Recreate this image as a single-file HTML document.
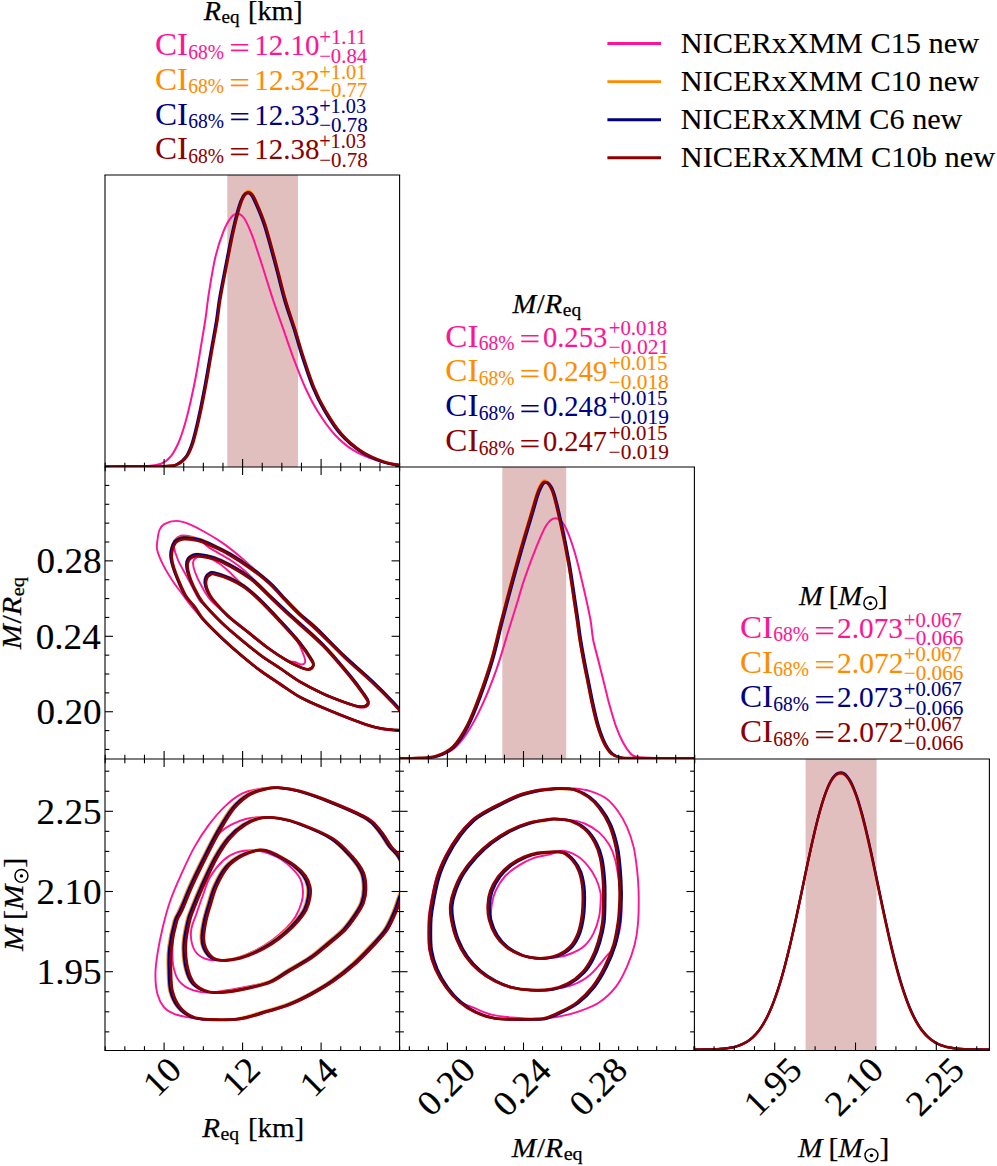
<!DOCTYPE html>
<html><head><meta charset="utf-8"><title>corner plot</title>
<style>html,body{margin:0;padding:0;background:#fff;width:997px;height:1166px;overflow:hidden}
text{font-family:"Liberation Serif",serif}</style></head>
<body>
<svg width="997" height="1166" viewBox="0 0 997 1166" style="display:block;font-family:'Liberation Serif',serif">
<defs>
<clipPath id="cp00"><rect x="105" y="175" width="294.6" height="292"/></clipPath>
<clipPath id="cp10"><rect x="105" y="467" width="294.6" height="292"/></clipPath>
<clipPath id="cp11"><rect x="399.6" y="467" width="294.8" height="292"/></clipPath>
<clipPath id="cp20"><rect x="105" y="759" width="294.6" height="291.5"/></clipPath>
<clipPath id="cp21"><rect x="399.6" y="759" width="294.8" height="291.5"/></clipPath>
<clipPath id="cp22"><rect x="694.4" y="759" width="295" height="291.5"/></clipPath>
</defs>
<rect x="0" y="0" width="997" height="1166" fill="#fff"/>
<rect x="227.3" y="175" width="70.7" height="292" fill="#e2bfbf"/>
<rect x="502.3" y="467" width="63.9" height="292" fill="#e2bfbf"/>
<rect x="805.6" y="759" width="71" height="291.5" fill="#e2bfbf"/>
<path d="M105,466.6C111.68,466.53 135.73,466.68 145.1,466.2C154.47,465.72 156.92,465.33 161.2,463.7C165.48,462.07 167.87,460.02 170.8,456.4C173.73,452.78 176.38,447.62 178.8,442C181.22,436.38 183.28,429.65 185.3,422.7C187.32,415.75 189.03,408.58 190.9,400.3C192.77,392.02 194.77,382.37 196.5,373C198.23,363.63 199.83,352.93 201.3,344.1C202.77,335.27 204.02,328.62 205.3,320C206.58,311.38 207.32,302.9 209,292.4C210.68,281.9 212.98,267.17 215.4,257C217.82,246.83 220.82,238.08 223.5,231.4C226.18,224.72 229.1,219.85 231.5,216.9C233.9,213.95 235.77,213.43 237.9,213.7C240.03,213.97 241.88,214.75 244.3,218.5C246.72,222.25 249.45,228.45 252.4,236.2C255.35,243.95 258.55,254.37 262,265C265.45,275.63 269.55,289.3 273.1,300C276.65,310.7 279.9,319.48 283.3,329.2C286.7,338.92 289.85,348.58 293.5,358.3C297.15,368.02 301.07,378.5 305.2,387.5C309.33,396.5 313.43,404.52 318.3,412.3C323.17,420.08 328.57,427.88 334.4,434.2C340.23,440.52 346.25,445.83 353.3,450.2C360.35,454.57 368.98,457.97 376.7,460.4C384.42,462.83 395.78,464.07 399.6,464.8" fill="none" stroke="#ff1493" stroke-width="2" stroke-linejoin="round" stroke-linecap="round" clip-path="url(#cp00)"/>
<path d="M104.7,466.6C112.2,466.57 139.53,466.48 149.7,466.4C159.87,466.31 161.17,466.42 165.7,466.1C170.23,465.78 173.42,466.11 176.9,464.49C180.38,462.86 183.92,460.11 186.6,456.34C189.28,452.57 190.87,448.58 193,441.85C195.13,435.13 197.27,425.69 199.4,416C201.53,406.31 203.8,394.47 205.8,383.71C207.8,372.94 209.52,362.18 211.4,351.41C213.28,340.65 215.67,328.06 217.1,319.12C218.53,310.18 218.45,307.01 220,297.79C221.55,288.57 224.27,274.82 226.4,263.79C228.53,252.76 230.67,241.27 232.8,231.6C234.93,221.92 237.38,211.95 239.2,205.74C241.02,199.54 242.23,196.86 243.7,194.38C245.17,191.89 246.67,191.11 248,190.86C249.33,190.6 250.48,191.46 251.7,192.87C252.92,194.28 253.1,194.21 255.3,199.31C257.5,204.4 261.43,212.7 264.9,223.45C268.37,234.2 272.72,251.2 276.1,263.79C279.48,276.38 282.1,288.24 285.2,299C288.3,309.76 291.65,318.6 294.7,328.38C297.75,338.15 300.33,347.88 303.5,357.65C306.67,367.43 310.07,378.22 313.7,387.03C317.33,395.83 320.68,402.64 325.3,410.47C329.92,418.3 335.32,427.15 341.4,434.01C347.48,440.86 354.75,446.97 361.8,451.61C368.85,456.25 377.45,459.61 383.7,461.87C389.95,464.14 396.7,464.64 399.3,465.19" fill="none" stroke="#ff8c00" stroke-width="2.2" stroke-linejoin="round" stroke-linecap="round" clip-path="url(#cp00)"/>
<path d="M103.8,466.9C111.3,466.87 138.63,466.78 148.8,466.7C158.97,466.62 160.27,466.72 164.8,466.4C169.33,466.08 172.52,466.42 176,464.8C179.48,463.18 183.02,460.45 185.7,456.7C188.38,452.95 189.97,448.98 192.1,442.3C194.23,435.62 196.37,426.23 198.5,416.6C200.63,406.97 202.9,395.2 204.9,384.5C206.9,373.8 208.62,363.1 210.5,352.4C212.38,341.7 214.77,329.18 216.2,320.3C217.63,311.42 217.55,308.27 219.1,299.1C220.65,289.93 223.37,276.27 225.5,265.3C227.63,254.33 229.77,242.92 231.9,233.3C234.03,223.68 236.48,213.77 238.3,207.6C240.12,201.43 241.33,198.77 242.8,196.3C244.27,193.83 245.77,193.05 247.1,192.8C248.43,192.55 249.58,193.4 250.8,194.8C252.02,196.2 252.2,196.13 254.4,201.2C256.6,206.27 260.53,214.52 264,225.2C267.47,235.88 271.82,252.78 275.2,265.3C278.58,277.82 281.2,289.6 284.3,300.3C287.4,311 290.75,319.78 293.8,329.5C296.85,339.22 299.43,348.88 302.6,358.6C305.77,368.32 309.17,379.05 312.8,387.8C316.43,396.55 319.78,403.32 324.4,411.1C329.02,418.88 334.42,427.68 340.5,434.5C346.58,441.32 353.85,447.38 360.9,452C367.95,456.62 376.55,459.95 382.8,462.2C389.05,464.45 395.8,464.95 398.4,465.5" fill="none" stroke="#000080" stroke-width="2.4" stroke-linejoin="round" stroke-linecap="round" clip-path="url(#cp00)"/>
<path d="M105,466.6C112.5,466.57 139.83,466.48 150,466.4C160.17,466.32 161.47,466.42 166,466.1C170.53,465.78 173.72,466.12 177.2,464.5C180.68,462.88 184.22,460.15 186.9,456.4C189.58,452.65 191.17,448.68 193.3,442C195.43,435.32 197.57,425.93 199.7,416.3C201.83,406.67 204.1,394.9 206.1,384.2C208.1,373.5 209.82,362.8 211.7,352.1C213.58,341.4 215.97,328.88 217.4,320C218.83,311.12 218.75,307.97 220.3,298.8C221.85,289.63 224.57,275.97 226.7,265C228.83,254.03 230.97,242.62 233.1,233C235.23,223.38 237.68,213.47 239.5,207.3C241.32,201.13 242.53,198.47 244,196C245.47,193.53 246.97,192.75 248.3,192.5C249.63,192.25 250.78,193.1 252,194.5C253.22,195.9 253.4,195.83 255.6,200.9C257.8,205.97 261.73,214.22 265.2,224.9C268.67,235.58 273.02,252.48 276.4,265C279.78,277.52 282.4,289.3 285.5,300C288.6,310.7 291.95,319.48 295,329.2C298.05,338.92 300.63,348.58 303.8,358.3C306.97,368.02 310.37,378.75 314,387.5C317.63,396.25 320.98,403.02 325.6,410.8C330.22,418.58 335.62,427.38 341.7,434.2C347.78,441.02 355.05,447.08 362.1,451.7C369.15,456.32 377.75,459.65 384,461.9C390.25,464.15 397,464.65 399.6,465.2" fill="none" stroke="#8b0000" stroke-width="2.8" stroke-linejoin="round" stroke-linecap="round" clip-path="url(#cp00)"/>
<path d="M399.6,758.3C403,758.27 413.92,758.4 420,758.1C426.08,757.8 430.6,757.97 436.1,756.5C441.6,755.03 447.78,753.32 453,749.3C458.22,745.28 462.6,739.63 467.4,732.4C472.2,725.17 476.98,716.33 481.8,705.9C486.62,695.47 491.88,682.23 496.3,669.8C500.72,657.37 504.68,642.93 508.3,631.3C511.92,619.67 515.33,608.67 518,600C520.67,591.33 521.25,588.1 524.3,579.3C527.35,570.5 532.63,556.22 536.3,547.2C539.97,538.18 543.13,530.03 546.3,525.2C549.47,520.37 552.28,518.2 555.3,518.2C558.32,518.2 561.22,519.68 564.4,525.2C567.58,530.72 571.07,540.27 574.4,551.3C577.73,562.33 581.72,579.95 584.4,591.4C587.08,602.85 589.03,611.9 590.5,620C591.97,628.1 591.85,633.1 593.2,640C594.55,646.9 596.8,654.25 598.6,661.4C600.4,668.55 602.22,675.75 604,682.9C605.78,690.05 607.33,697.15 609.3,704.3C611.27,711.45 613.47,719.35 615.8,725.8C618.13,732.25 620.8,738.35 623.3,743C625.8,747.65 628.48,751.38 630.8,753.7C633.12,756.02 632.33,756.15 637.2,756.9C642.07,757.65 650.47,757.97 660,758.2C669.53,758.43 688.67,758.28 694.4,758.3" fill="none" stroke="#ff1493" stroke-width="2" stroke-linejoin="round" stroke-linecap="round" clip-path="url(#cp11)"/>
<path d="M399.3,758.3C401.77,758.28 408.02,758.59 414.1,758.2C420.18,757.81 429.37,757.9 435.8,755.99C442.23,754.07 447.48,751.9 452.7,746.73C457.92,741.57 462.7,733.47 467.1,725C471.5,716.53 475.08,706.83 479.1,695.93C483.12,685.03 487.58,672.07 491.2,659.61C494.82,647.15 497.68,633.39 500.8,621.18C503.92,608.98 506.72,598.23 509.9,586.37C513.08,574.52 516.55,561.83 519.9,550.06C523.25,538.29 526.98,525.85 530,515.75C533.02,505.66 535.6,495.4 538,489.5C540.4,483.59 542.07,480.34 544.4,480.34C546.73,480.34 549.38,482.59 552,489.5C554.62,496.4 557.42,509.68 560.1,521.79C562.78,533.89 565.83,549.25 568.1,562.13C570.37,575.01 572.27,589.54 573.7,599.05C575.13,608.56 575.73,612.46 576.7,619.17C577.67,625.88 578.4,632.35 579.5,639.29C580.6,646.23 581.95,653.63 583.3,660.82C584.65,668.01 586.17,675.25 587.6,682.45C589.03,689.64 590.3,696.78 591.9,703.98C593.5,711.17 595.23,719.12 597.2,725.6C599.17,732.09 601.37,738.23 603.7,742.91C606.03,747.59 608.53,751.26 611.2,753.67C613.87,756.09 615.78,756.64 619.7,757.39C623.62,758.15 622.3,758.05 634.7,758.2C647.1,758.35 684.2,758.28 694.1,758.3" fill="none" stroke="#ff8c00" stroke-width="2.2" stroke-linejoin="round" stroke-linecap="round" clip-path="url(#cp11)"/>
<path d="M400.9,758.6C403.37,758.58 409.62,758.88 415.7,758.5C421.78,758.12 430.97,758.2 437.4,756.3C443.83,754.4 449.08,752.23 454.3,747.1C459.52,741.97 464.3,733.92 468.7,725.5C473.1,717.08 476.68,707.43 480.7,696.6C484.72,685.77 489.18,672.88 492.8,660.5C496.42,648.12 499.28,634.43 502.4,622.3C505.52,610.17 508.32,599.48 511.5,587.7C514.68,575.92 518.15,563.3 521.5,551.6C524.85,539.9 528.58,527.53 531.6,517.5C534.62,507.47 537.2,497.27 539.6,491.4C542,485.53 543.67,482.3 546,482.3C548.33,482.3 550.98,484.53 553.6,491.4C556.22,498.27 559.02,511.47 561.7,523.5C564.38,535.53 567.43,550.8 569.7,563.6C571.97,576.4 573.87,590.85 575.3,600.3C576.73,609.75 577.33,613.63 578.3,620.3C579.27,626.97 580,633.4 581.1,640.3C582.2,647.2 583.55,654.55 584.9,661.7C586.25,668.85 587.77,676.05 589.2,683.2C590.63,690.35 591.9,697.45 593.5,704.6C595.1,711.75 596.83,719.65 598.8,726.1C600.77,732.55 602.97,738.65 605.3,743.3C607.63,747.95 610.13,751.6 612.8,754C615.47,756.4 617.38,756.95 621.3,757.7C625.22,758.45 623.9,758.35 636.3,758.5C648.7,758.65 685.8,758.58 695.7,758.6" fill="none" stroke="#000080" stroke-width="2.4" stroke-linejoin="round" stroke-linecap="round" clip-path="url(#cp11)"/>
<path d="M399.6,758.3C402.07,758.28 408.32,758.58 414.4,758.2C420.48,757.82 429.67,757.9 436.1,756C442.53,754.1 447.78,751.93 453,746.8C458.22,741.67 463,733.62 467.4,725.2C471.8,716.78 475.38,707.13 479.4,696.3C483.42,685.47 487.88,672.58 491.5,660.2C495.12,647.82 497.98,634.13 501.1,622C504.22,609.87 507.02,599.18 510.2,587.4C513.38,575.62 516.85,563 520.2,551.3C523.55,539.6 527.28,527.23 530.3,517.2C533.32,507.17 535.9,496.97 538.3,491.1C540.7,485.23 542.37,482 544.7,482C547.03,482 549.68,484.23 552.3,491.1C554.92,497.97 557.72,511.17 560.4,523.2C563.08,535.23 566.13,550.5 568.4,563.3C570.67,576.1 572.57,590.55 574,600C575.43,609.45 576.03,613.33 577,620C577.97,626.67 578.7,633.1 579.8,640C580.9,646.9 582.25,654.25 583.6,661.4C584.95,668.55 586.47,675.75 587.9,682.9C589.33,690.05 590.6,697.15 592.2,704.3C593.8,711.45 595.53,719.35 597.5,725.8C599.47,732.25 601.67,738.35 604,743C606.33,747.65 608.83,751.3 611.5,753.7C614.17,756.1 616.08,756.65 620,757.4C623.92,758.15 622.6,758.05 635,758.2C647.4,758.35 684.5,758.28 694.4,758.3" fill="none" stroke="#8b0000" stroke-width="2.8" stroke-linejoin="round" stroke-linecap="round" clip-path="url(#cp11)"/>
<path d="M694.4,1049.57C694.9,1049.57 696.4,1049.56 697.4,1049.56C698.4,1049.55 699.4,1049.54 700.4,1049.53C701.4,1049.53 702.4,1049.52 703.4,1049.5C704.4,1049.49 705.4,1049.48 706.4,1049.46C707.4,1049.45 708.4,1049.43 709.4,1049.41C710.4,1049.38 711.4,1049.36 712.4,1049.33C713.4,1049.29 714.4,1049.26 715.4,1049.22C716.4,1049.17 717.4,1049.13 718.4,1049.07C719.4,1049.01 720.4,1048.95 721.4,1048.87C722.4,1048.79 723.4,1048.71 724.4,1048.6C725.4,1048.5 726.4,1048.39 727.4,1048.26C728.4,1048.12 729.4,1047.97 730.4,1047.8C731.4,1047.62 732.4,1047.43 733.4,1047.21C734.4,1046.98 735.4,1046.74 736.4,1046.45C737.4,1046.17 738.4,1045.85 739.4,1045.49C740.4,1045.13 741.4,1044.74 742.4,1044.29C743.4,1043.83 744.4,1043.34 745.4,1042.78C746.4,1042.22 747.4,1041.61 748.4,1040.93C749.4,1040.24 750.4,1039.5 751.4,1038.66C752.4,1037.83 753.4,1036.92 754.4,1035.92C755.4,1034.91 756.4,1033.83 757.4,1032.63C758.4,1031.43 759.4,1030.14 760.4,1028.73C761.4,1027.31 762.4,1025.79 763.4,1024.14C764.4,1022.48 765.4,1020.72 766.4,1018.8C767.4,1016.89 768.4,1014.84 769.4,1012.65C770.4,1010.46 771.4,1008.13 772.4,1005.64C773.4,1003.15 774.4,1000.51 775.4,997.72C776.4,994.92 777.4,991.98 778.4,988.87C779.4,985.77 780.4,982.51 781.4,979.1C782.4,975.68 783.4,972.11 784.4,968.4C785.4,964.7 786.4,960.83 787.4,956.84C788.4,952.85 789.4,948.72 790.4,944.48C791.4,940.24 792.4,935.86 793.4,931.41C794.4,926.96 795.4,922.38 796.4,917.77C797.4,913.15 798.4,908.43 799.4,903.7C800.4,898.97 801.4,894.16 802.4,889.38C803.4,884.61 804.4,879.78 805.4,875.03C806.4,870.27 807.4,865.5 808.4,860.84C809.4,856.17 810.4,851.53 811.4,847.04C812.4,842.55 813.4,838.12 814.4,833.87C815.4,829.62 816.4,825.48 817.4,821.55C818.4,817.63 819.4,813.84 820.4,810.3C821.4,806.76 822.4,803.41 823.4,800.32C824.4,797.23 825.4,794.35 826.4,791.76C827.4,789.17 828.4,786.83 829.4,784.78C830.4,782.73 831.4,780.95 832.4,779.47C833.4,777.98 834.4,776.78 835.4,775.87C836.4,774.95 837.4,774.34 838.4,773.97C839.4,773.6 840.4,773.51 841.4,773.64C842.4,773.78 843.4,774.12 844.4,774.78C845.4,775.43 846.4,776.35 847.4,777.57C848.4,778.79 849.4,780.3 850.4,782.09C851.4,783.88 852.4,785.96 853.4,788.3C854.4,790.64 855.4,793.27 856.4,796.14C857.4,799 858.4,802.14 859.4,805.47C860.4,808.81 861.4,812.4 862.4,816.16C863.4,819.91 864.4,823.9 865.4,828C866.4,832.11 867.4,836.41 868.4,840.8C869.4,845.19 870.4,849.74 871.4,854.33C872.4,858.93 873.4,863.64 874.4,868.37C875.4,873.09 876.4,877.9 877.4,882.68C878.4,887.45 879.4,892.28 880.4,897.04C881.4,901.8 882.4,906.56 883.4,911.24C884.4,915.92 885.4,920.57 886.4,925.11C887.4,929.64 888.4,934.12 889.4,938.46C890.4,942.8 891.4,947.06 892.4,951.17C893.4,955.27 894.4,959.27 895.4,963.11C896.4,966.96 897.4,970.67 898.4,974.22C899.4,977.77 900.4,981.18 901.4,984.43C902.4,987.67 903.4,990.77 904.4,993.71C905.4,996.65 906.4,999.43 907.4,1002.06C908.4,1004.69 909.4,1007.16 910.4,1009.49C911.4,1011.82 912.4,1013.99 913.4,1016.03C914.4,1018.08 915.4,1019.97 916.4,1021.74C917.4,1023.52 918.4,1025.15 919.4,1026.67C920.4,1028.2 921.4,1029.59 922.4,1030.89C923.4,1032.18 924.4,1033.36 925.4,1034.45C926.4,1035.55 927.4,1036.53 928.4,1037.44C929.4,1038.36 930.4,1039.17 931.4,1039.92C932.4,1040.68 933.4,1041.35 934.4,1041.96C935.4,1042.58 936.4,1043.12 937.4,1043.62C938.4,1044.12 939.4,1044.56 940.4,1044.96C941.4,1045.36 942.4,1045.71 943.4,1046.03C944.4,1046.35 945.4,1046.63 946.4,1046.88C947.4,1047.13 948.4,1047.35 949.4,1047.54C950.4,1047.74 951.4,1047.91 952.4,1048.06C953.4,1048.21 954.4,1048.34 955.4,1048.45C956.4,1048.57 957.4,1048.67 958.4,1048.75C959.4,1048.84 960.4,1048.92 961.4,1048.98C962.4,1049.05 963.4,1049.1 964.4,1049.15C965.4,1049.2 966.4,1049.24 967.4,1049.28C968.4,1049.32 969.4,1049.34 970.4,1049.37C971.4,1049.4 972.4,1049.42 973.4,1049.44C974.4,1049.46 975.4,1049.47 976.4,1049.49C977.4,1049.5 978.4,1049.51 979.4,1049.52C980.4,1049.53 981.4,1049.54 982.4,1049.55C983.4,1049.55 984.4,1049.56 985.4,1049.56C986.4,1049.57 987.9,1049.57 988.4,1049.58" fill="none" stroke="#ff1493" stroke-width="2" stroke-linejoin="round" stroke-linecap="round" clip-path="url(#cp22)"/>
<path d="M694.4,1049.57C694.9,1049.57 696.4,1049.56 697.4,1049.55C698.4,1049.55 699.4,1049.54 700.4,1049.53C701.4,1049.52 702.4,1049.51 703.4,1049.5C704.4,1049.49 705.4,1049.48 706.4,1049.46C707.4,1049.44 708.4,1049.42 709.4,1049.4C710.4,1049.37 711.4,1049.35 712.4,1049.32C713.4,1049.28 714.4,1049.25 715.4,1049.2C716.4,1049.16 717.4,1049.11 718.4,1049.05C719.4,1048.99 720.4,1048.93 721.4,1048.85C722.4,1048.77 723.4,1048.68 724.4,1048.57C725.4,1048.47 726.4,1048.35 727.4,1048.21C728.4,1048.08 729.4,1047.92 730.4,1047.75C731.4,1047.57 732.4,1047.37 733.4,1047.14C734.4,1046.91 735.4,1046.66 736.4,1046.36C737.4,1046.07 738.4,1045.75 739.4,1045.38C740.4,1045.01 741.4,1044.61 742.4,1044.15C743.4,1043.68 744.4,1043.18 745.4,1042.61C746.4,1042.04 747.4,1041.42 748.4,1040.71C749.4,1040.01 750.4,1039.25 751.4,1038.4C752.4,1037.55 753.4,1036.63 754.4,1035.6C755.4,1034.58 756.4,1033.47 757.4,1032.25C758.4,1031.03 759.4,1029.72 760.4,1028.28C761.4,1026.84 762.4,1025.3 763.4,1023.62C764.4,1021.94 765.4,1020.14 766.4,1018.2C767.4,1016.26 768.4,1014.19 769.4,1011.96C770.4,1009.74 771.4,1007.37 772.4,1004.85C773.4,1002.33 774.4,999.66 775.4,996.84C776.4,994.01 777.4,991.03 778.4,987.89C779.4,984.76 780.4,981.46 781.4,978.02C782.4,974.57 783.4,970.97 784.4,967.23C785.4,963.49 786.4,959.59 787.4,955.57C788.4,951.55 789.4,947.39 790.4,943.12C791.4,938.86 792.4,934.46 793.4,929.98C794.4,925.51 795.4,920.91 796.4,916.28C797.4,911.64 798.4,906.91 799.4,902.17C800.4,897.43 801.4,892.61 802.4,887.83C803.4,883.05 804.4,878.22 805.4,873.47C806.4,868.71 807.4,863.95 808.4,859.3C809.4,854.64 810.4,850.02 811.4,845.54C812.4,841.07 813.4,836.66 814.4,832.44C815.4,828.22 816.4,824.11 817.4,820.21C818.4,816.32 819.4,812.57 820.4,809.07C821.4,805.57 822.4,802.26 823.4,799.21C824.4,796.17 825.4,793.34 826.4,790.8C827.4,788.27 828.4,785.98 829.4,783.98C830.4,781.99 831.4,780.26 832.4,778.83C833.4,777.4 834.4,776.27 835.4,775.41C836.4,774.55 837.4,773.99 838.4,773.68C839.4,773.36 840.4,773.3 841.4,773.49C842.4,773.67 843.4,774.07 844.4,774.78C845.4,775.49 846.4,776.47 847.4,777.75C848.4,779.03 849.4,780.6 850.4,782.44C851.4,784.29 852.4,786.43 853.4,788.83C854.4,791.22 855.4,793.91 856.4,796.82C857.4,799.74 858.4,802.92 859.4,806.31C860.4,809.69 861.4,813.33 862.4,817.13C863.4,820.92 864.4,824.94 865.4,829.08C866.4,833.23 867.4,837.56 868.4,841.98C869.4,846.39 870.4,850.96 871.4,855.58C872.4,860.19 873.4,864.92 874.4,869.66C875.4,874.4 876.4,879.21 877.4,883.99C878.4,888.78 879.4,893.6 880.4,898.36C881.4,903.12 882.4,907.88 883.4,912.55C884.4,917.22 885.4,921.85 886.4,926.38C887.4,930.9 888.4,935.36 889.4,939.68C890.4,944.01 891.4,948.24 892.4,952.33C893.4,956.41 894.4,960.38 895.4,964.2C896.4,968.02 897.4,971.7 898.4,975.23C899.4,978.75 900.4,982.13 901.4,985.35C902.4,988.57 903.4,991.63 904.4,994.54C905.4,997.45 906.4,1000.2 907.4,1002.81C908.4,1005.41 909.4,1007.85 910.4,1010.15C911.4,1012.45 912.4,1014.6 913.4,1016.62C914.4,1018.64 915.4,1020.5 916.4,1022.25C917.4,1024 918.4,1025.61 919.4,1027.11C920.4,1028.61 921.4,1029.98 922.4,1031.26C923.4,1032.54 924.4,1033.69 925.4,1034.77C926.4,1035.84 927.4,1036.81 928.4,1037.7C929.4,1038.6 930.4,1039.4 931.4,1040.14C932.4,1040.88 933.4,1041.54 934.4,1042.14C935.4,1042.75 936.4,1043.28 937.4,1043.77C938.4,1044.26 939.4,1044.69 940.4,1045.08C941.4,1045.47 942.4,1045.81 943.4,1046.12C944.4,1046.44 945.4,1046.71 946.4,1046.95C947.4,1047.2 948.4,1047.41 949.4,1047.6C950.4,1047.79 951.4,1047.95 952.4,1048.1C953.4,1048.25 954.4,1048.37 955.4,1048.49C956.4,1048.6 957.4,1048.69 958.4,1048.78C959.4,1048.87 960.4,1048.94 961.4,1049C962.4,1049.07 963.4,1049.12 964.4,1049.17C965.4,1049.21 966.4,1049.25 967.4,1049.29C968.4,1049.32 969.4,1049.35 970.4,1049.38C971.4,1049.4 972.4,1049.43 973.4,1049.44C974.4,1049.46 975.4,1049.48 976.4,1049.49C977.4,1049.5 978.4,1049.52 979.4,1049.52C980.4,1049.53 981.4,1049.54 982.4,1049.55C983.4,1049.55 984.4,1049.56 985.4,1049.56C986.4,1049.57 987.9,1049.57 988.4,1049.58" fill="none" stroke="#ff8c00" stroke-width="2" stroke-linejoin="round" stroke-linecap="round" clip-path="url(#cp22)"/>
<path d="M694.4,1049.57C694.9,1049.57 696.4,1049.56 697.4,1049.55C698.4,1049.55 699.4,1049.54 700.4,1049.53C701.4,1049.52 702.4,1049.51 703.4,1049.5C704.4,1049.49 705.4,1049.47 706.4,1049.46C707.4,1049.44 708.4,1049.42 709.4,1049.4C710.4,1049.37 711.4,1049.35 712.4,1049.31C713.4,1049.28 714.4,1049.24 715.4,1049.2C716.4,1049.16 717.4,1049.11 718.4,1049.05C719.4,1048.99 720.4,1048.92 721.4,1048.84C722.4,1048.76 723.4,1048.67 724.4,1048.57C725.4,1048.46 726.4,1048.35 727.4,1048.21C728.4,1048.07 729.4,1047.92 730.4,1047.74C731.4,1047.56 732.4,1047.36 733.4,1047.13C734.4,1046.9 735.4,1046.65 736.4,1046.36C737.4,1046.06 738.4,1045.74 739.4,1045.38C740.4,1045.01 741.4,1044.6 742.4,1044.14C743.4,1043.68 744.4,1043.18 745.4,1042.61C746.4,1042.04 747.4,1041.42 748.4,1040.72C749.4,1040.02 750.4,1039.26 751.4,1038.41C752.4,1037.56 753.4,1036.64 754.4,1035.62C755.4,1034.6 756.4,1033.5 757.4,1032.28C758.4,1031.07 759.4,1029.76 760.4,1028.32C761.4,1026.89 762.4,1025.35 763.4,1023.68C764.4,1022 765.4,1020.21 766.4,1018.28C767.4,1016.34 768.4,1014.28 769.4,1012.06C770.4,1009.85 771.4,1007.49 772.4,1004.98C773.4,1002.47 774.4,999.81 775.4,996.99C776.4,994.18 777.4,991.21 778.4,988.08C779.4,984.95 780.4,981.67 781.4,978.24C782.4,974.8 783.4,971.21 784.4,967.48C785.4,963.75 786.4,959.86 787.4,955.86C788.4,951.85 789.4,947.69 790.4,943.44C791.4,939.18 792.4,934.79 793.4,930.32C794.4,925.85 795.4,921.27 796.4,916.63C797.4,912 798.4,907.27 799.4,902.53C800.4,897.79 801.4,892.98 802.4,888.19C803.4,883.4 804.4,878.57 805.4,873.81C806.4,869.04 807.4,864.27 808.4,859.6C809.4,854.94 810.4,850.3 811.4,845.8C812.4,841.31 813.4,836.88 814.4,832.63C815.4,828.38 816.4,824.24 817.4,820.31C818.4,816.39 819.4,812.6 820.4,809.07C821.4,805.53 822.4,802.17 823.4,799.09C824.4,796 825.4,793.13 826.4,790.54C827.4,787.95 828.4,785.61 829.4,783.57C830.4,781.52 831.4,779.74 832.4,778.26C833.4,776.78 834.4,775.58 835.4,774.67C836.4,773.75 837.4,773.14 838.4,772.77C839.4,772.4 840.4,772.31 841.4,772.44C842.4,772.58 843.4,772.92 844.4,773.58C845.4,774.23 846.4,775.15 847.4,776.37C848.4,777.59 849.4,779.09 850.4,780.88C851.4,782.66 852.4,784.75 853.4,787.08C854.4,789.42 855.4,792.05 856.4,794.91C857.4,797.77 858.4,800.91 859.4,804.24C860.4,807.58 861.4,811.17 862.4,814.92C863.4,818.67 864.4,822.65 865.4,826.76C866.4,830.87 867.4,835.17 868.4,839.56C869.4,843.95 870.4,848.5 871.4,853.1C872.4,857.7 873.4,862.42 874.4,867.14C875.4,871.87 876.4,876.68 877.4,881.47C878.4,886.25 879.4,891.08 880.4,895.86C881.4,900.63 882.4,905.4 883.4,910.09C884.4,914.78 885.4,919.45 886.4,924C887.4,928.55 888.4,933.04 889.4,937.4C890.4,941.76 891.4,946.03 892.4,950.16C893.4,954.28 894.4,958.3 895.4,962.16C896.4,966.02 897.4,969.76 898.4,973.33C899.4,976.9 900.4,980.33 901.4,983.6C902.4,986.87 903.4,989.99 904.4,992.95C905.4,995.91 906.4,998.72 907.4,1001.37C908.4,1004.02 909.4,1006.52 910.4,1008.87C911.4,1011.22 912.4,1013.42 913.4,1015.48C914.4,1017.55 915.4,1019.46 916.4,1021.26C917.4,1023.05 918.4,1024.7 919.4,1026.25C920.4,1027.79 921.4,1029.2 922.4,1030.52C923.4,1031.83 924.4,1033.03 925.4,1034.14C926.4,1035.24 927.4,1036.24 928.4,1037.17C929.4,1038.1 930.4,1038.93 931.4,1039.7C932.4,1040.46 933.4,1041.14 934.4,1041.77C935.4,1042.4 936.4,1042.96 937.4,1043.47C938.4,1043.98 939.4,1044.42 940.4,1044.83C941.4,1045.24 942.4,1045.6 943.4,1045.93C944.4,1046.25 945.4,1046.54 946.4,1046.79C947.4,1047.05 948.4,1047.27 949.4,1047.47C950.4,1047.68 951.4,1047.85 952.4,1048C953.4,1048.16 954.4,1048.29 955.4,1048.41C956.4,1048.53 957.4,1048.63 958.4,1048.72C959.4,1048.81 960.4,1048.89 961.4,1048.96C962.4,1049.03 963.4,1049.08 964.4,1049.13C965.4,1049.19 966.4,1049.23 967.4,1049.26C968.4,1049.3 969.4,1049.33 970.4,1049.36C971.4,1049.39 972.4,1049.41 973.4,1049.43C974.4,1049.45 975.4,1049.47 976.4,1049.48C977.4,1049.5 978.4,1049.51 979.4,1049.52C980.4,1049.53 981.4,1049.54 982.4,1049.54C983.4,1049.55 984.4,1049.56 985.4,1049.56C986.4,1049.57 987.9,1049.57 988.4,1049.57" fill="none" stroke="#000080" stroke-width="2.3" stroke-linejoin="round" stroke-linecap="round" clip-path="url(#cp22)"/>
<path d="M694.4,1049.57C694.9,1049.57 696.4,1049.56 697.4,1049.55C698.4,1049.55 699.4,1049.54 700.4,1049.53C701.4,1049.52 702.4,1049.51 703.4,1049.5C704.4,1049.49 705.4,1049.48 706.4,1049.46C707.4,1049.44 708.4,1049.42 709.4,1049.4C710.4,1049.38 711.4,1049.35 712.4,1049.32C713.4,1049.29 714.4,1049.25 715.4,1049.21C716.4,1049.16 717.4,1049.12 718.4,1049.06C719.4,1049 720.4,1048.93 721.4,1048.85C722.4,1048.77 723.4,1048.69 724.4,1048.58C725.4,1048.48 726.4,1048.36 727.4,1048.23C728.4,1048.09 729.4,1047.94 730.4,1047.76C731.4,1047.58 732.4,1047.39 733.4,1047.16C734.4,1046.93 735.4,1046.68 736.4,1046.39C737.4,1046.1 738.4,1045.78 739.4,1045.41C740.4,1045.05 741.4,1044.65 742.4,1044.19C743.4,1043.73 744.4,1043.23 745.4,1042.66C746.4,1042.09 747.4,1041.47 748.4,1040.78C749.4,1040.08 750.4,1039.32 751.4,1038.48C752.4,1037.63 753.4,1036.71 754.4,1035.7C755.4,1034.68 756.4,1033.58 757.4,1032.36C758.4,1031.15 759.4,1029.84 760.4,1028.41C761.4,1026.98 762.4,1025.44 763.4,1023.77C764.4,1022.1 765.4,1020.31 766.4,1018.37C767.4,1016.44 768.4,1014.37 769.4,1012.16C770.4,1009.94 771.4,1007.58 772.4,1005.07C773.4,1002.56 774.4,999.9 775.4,997.08C776.4,994.26 777.4,991.29 778.4,988.16C779.4,985.03 780.4,981.74 781.4,978.31C782.4,974.87 783.4,971.27 784.4,967.54C785.4,963.81 786.4,959.92 787.4,955.91C788.4,951.89 789.4,947.73 790.4,943.47C791.4,939.21 792.4,934.81 793.4,930.34C794.4,925.87 795.4,921.28 796.4,916.65C797.4,912.01 798.4,907.28 799.4,902.54C800.4,897.79 801.4,892.98 802.4,888.19C803.4,883.41 804.4,878.58 805.4,873.82C806.4,869.06 807.4,864.29 808.4,859.63C809.4,854.96 810.4,850.33 811.4,845.85C812.4,841.36 813.4,836.94 814.4,832.71C815.4,828.47 816.4,824.35 817.4,820.44C818.4,816.53 819.4,812.76 820.4,809.25C821.4,805.73 822.4,802.4 823.4,799.34C824.4,796.27 825.4,793.43 826.4,790.87C827.4,788.32 828.4,786.01 829.4,783.99C830.4,781.97 831.4,780.23 832.4,778.78C833.4,777.33 834.4,776.17 835.4,775.29C836.4,774.41 837.4,773.84 838.4,773.51C839.4,773.17 840.4,773.1 841.4,773.27C842.4,773.44 843.4,773.82 844.4,774.51C845.4,775.2 846.4,776.17 847.4,777.43C848.4,778.69 849.4,780.24 850.4,782.06C851.4,783.89 852.4,786.02 853.4,788.4C854.4,790.78 855.4,793.45 856.4,796.35C857.4,799.25 858.4,802.42 859.4,805.79C860.4,809.16 861.4,812.79 862.4,816.58C863.4,820.36 864.4,824.38 865.4,828.51C866.4,832.64 867.4,836.97 868.4,841.38C869.4,845.79 870.4,850.36 871.4,854.98C872.4,859.59 873.4,864.32 874.4,869.06C875.4,873.79 876.4,878.61 877.4,883.39C878.4,888.18 879.4,893.01 880.4,897.77C881.4,902.54 882.4,907.3 883.4,911.98C884.4,916.66 885.4,921.3 886.4,925.83C887.4,930.37 888.4,934.83 889.4,939.17C890.4,943.5 891.4,947.75 892.4,951.85C893.4,955.94 894.4,959.93 895.4,963.76C896.4,967.59 897.4,971.28 898.4,974.82C899.4,978.36 900.4,981.75 901.4,984.98C902.4,988.21 903.4,991.29 904.4,994.21C905.4,997.13 906.4,999.9 907.4,1002.51C908.4,1005.12 909.4,1007.58 910.4,1009.89C911.4,1012.21 912.4,1014.37 913.4,1016.39C914.4,1018.42 915.4,1020.3 916.4,1022.06C917.4,1023.82 918.4,1025.43 919.4,1026.94C920.4,1028.45 921.4,1029.83 922.4,1031.12C923.4,1032.4 924.4,1033.57 925.4,1034.65C926.4,1035.73 927.4,1036.71 928.4,1037.61C929.4,1038.51 930.4,1039.32 931.4,1040.06C932.4,1040.8 933.4,1041.47 934.4,1042.08C935.4,1042.68 936.4,1043.22 937.4,1043.71C938.4,1044.21 939.4,1044.64 940.4,1045.04C941.4,1045.43 942.4,1045.78 943.4,1046.09C944.4,1046.41 945.4,1046.68 946.4,1046.92C947.4,1047.17 948.4,1047.38 949.4,1047.58C950.4,1047.77 951.4,1047.94 952.4,1048.08C953.4,1048.23 954.4,1048.36 955.4,1048.47C956.4,1048.59 957.4,1048.68 958.4,1048.77C959.4,1048.86 960.4,1048.93 961.4,1048.99C962.4,1049.06 963.4,1049.11 964.4,1049.16C965.4,1049.21 966.4,1049.25 967.4,1049.29C968.4,1049.32 969.4,1049.35 970.4,1049.38C971.4,1049.4 972.4,1049.42 973.4,1049.44C974.4,1049.46 975.4,1049.48 976.4,1049.49C977.4,1049.5 978.4,1049.51 979.4,1049.52C980.4,1049.53 981.4,1049.54 982.4,1049.55C983.4,1049.55 984.4,1049.56 985.4,1049.56C986.4,1049.57 987.9,1049.57 988.4,1049.58" fill="none" stroke="#8b0000" stroke-width="2.5" stroke-linejoin="round" stroke-linecap="round" clip-path="url(#cp22)"/>
<path d="M157.5,540C157.88,536.67 158.37,532.65 159.5,530C160.63,527.35 161.53,525.62 164.3,524.1C167.07,522.58 171.97,520.9 176.1,520.9C180.23,520.9 184.32,522.25 189.1,524.1C193.88,525.95 199.37,528.95 204.8,532C210.23,535.05 216.05,538.5 221.7,542.4C227.35,546.3 234.13,551.68 238.7,555.4C243.27,559.12 246.03,561.95 249.1,564.7C252.17,567.45 254.43,569.45 257.1,571.9C259.77,574.35 262.42,576.93 265.1,579.4C267.78,581.87 267.38,580.8 273.2,586.7C279.02,592.6 288.15,603.13 300,614.8C311.85,626.47 332.25,645.5 344.3,656.7C356.35,667.9 364.12,674.28 372.3,682C380.48,689.72 388.12,697.33 393.4,703C398.68,708.67 401.23,712.5 404,716C406.77,719.5 410,721.58 410,724C410,726.42 409.1,729.7 404,730.5C398.9,731.3 387.02,730.17 379.4,728.8C371.78,727.43 367.67,725.72 358.3,722.3C348.93,718.88 332.92,712.43 323.2,708.3C313.48,704.17 310.37,703.63 300,697.5C289.63,691.37 273.92,681.25 261,671.5C248.08,661.75 232,647.5 222.5,639C213,630.5 209.08,625.83 204,620.5C198.92,615.17 195.57,611.33 192,607C188.43,602.67 185.9,598.97 182.6,594.5C179.3,590.03 175.47,585.18 172.2,580.2C168.93,575.22 165.5,569.63 163,564.6C160.5,559.57 158.12,554.1 157.2,550C156.28,545.9 157.12,543.33 157.5,540Z" fill="none" stroke="#ff1493" stroke-width="1.9" stroke-linejoin="round" stroke-linecap="round" clip-path="url(#cp10)"/>
<path d="M173.5,545C173,541.58 173.73,541.07 175,539.5C176.27,537.93 178.33,536.07 181.1,535.6C183.87,535.13 188.45,535.97 191.6,536.7C194.75,537.43 197.07,538.18 200,540C202.93,541.82 204.2,544.3 209.2,547.6C214.2,550.9 224.03,555.9 230,559.8C235.97,563.7 240.33,566.97 245,571C249.67,575.03 253.48,579.38 258,584C262.52,588.62 266.77,593.45 272.1,598.7C277.43,603.95 281.48,607.7 290,615.5C298.52,623.3 312.98,635.08 323.2,645.5C333.42,655.92 344.5,669.75 351.3,678C358.1,686.25 361.08,690.92 364,695C366.92,699.08 368.47,700.5 368.8,702.5C369.13,704.5 367.8,706.25 366,707C364.2,707.75 361.62,707.72 358,707C354.38,706.28 350.1,704.83 344.3,702.7C338.5,700.57 330.58,697.62 323.2,694.2C315.82,690.78 307.07,686.37 300,682.2C292.93,678.03 287.25,673.55 280.8,669.2C274.35,664.85 267.82,660.88 261.3,656.1C254.78,651.32 248.22,645.93 241.7,640.5C235.18,635.07 228.32,629.42 222.2,623.5C216.08,617.58 208.82,608.92 205,605C201.18,601.08 202.38,604.83 199.3,600C196.22,595.17 190.05,582.67 186.5,576C182.95,569.33 180.17,565.17 178,560C175.83,554.83 174,548.42 173.5,545Z" fill="none" stroke="#ff1493" stroke-width="1.9" stroke-linejoin="round" stroke-linecap="round" clip-path="url(#cp10)"/>
<path d="M193,563C193,560.75 193.83,559.58 195,558.5C196.17,557.42 197.63,556.57 200,556.5C202.37,556.43 205.87,556.85 209.2,558.1C212.53,559.35 216.53,561.6 220,564C223.47,566.4 226,568.75 230,572.5C234,576.25 239.17,582 244,586.5C248.83,591 253.22,593.95 259,599.5C264.78,605.05 272.37,612.88 278.7,619.8C285.03,626.72 292.78,634.97 297,641C301.22,647.03 302.67,652.42 304,656C305.33,659.58 305.5,661.08 305,662.5C304.5,663.92 302.67,664.58 301,664.5C299.33,664.42 297.27,662.7 295,662C292.73,661.3 291.93,662.75 287.4,660.3C282.87,657.85 274.33,652.07 267.8,647.3C261.27,642.53 254.72,636.92 248.2,631.7C241.68,626.48 234.97,621.28 228.7,616C222.43,610.72 215.22,605.17 210.6,600C205.98,594.83 203.6,589.67 201,585C198.4,580.33 196.33,575.67 195,572C193.67,568.33 193,565.25 193,563Z" fill="none" stroke="#ff1493" stroke-width="1.9" stroke-linejoin="round" stroke-linecap="round" clip-path="url(#cp10)"/>
<path d="M171.03,548.48C171.67,545.88 172.84,542.93 174.18,541.16C175.52,539.39 177.32,538.57 179.06,537.86C180.81,537.16 181.3,536.72 184.65,536.9C188,537.08 194.09,537.5 199.15,538.93C204.2,540.36 209.78,543.07 214.98,545.48C220.18,547.9 224.35,549.85 230.36,553.43C236.37,557.01 245.23,562.88 251.02,566.96C256.8,571.04 261.37,574.85 265.07,577.91C268.78,580.96 269.71,581.69 273.24,585.27C276.77,588.85 281.79,594.7 286.25,599.38C290.71,604.06 295.02,608.7 300.01,613.34C305.01,617.99 308.83,620.26 316.22,627.25C323.6,634.23 334.97,646.36 344.32,655.25C353.67,664.13 364.13,672.81 372.32,680.55C380.51,688.28 388.16,696.08 393.45,701.68C398.75,707.28 401.29,710.63 404.1,714.13C406.91,717.64 410.4,720.12 410.3,722.7C410.2,725.28 408.8,728.74 403.52,729.59C398.25,730.44 386.33,729.16 378.64,727.79C370.95,726.41 366.79,724.76 357.39,721.35C347.99,717.94 331.99,711.47 322.25,707.33C312.51,703.19 306.02,700.38 298.96,696.49C291.91,692.59 286.42,688.29 279.9,683.95C273.38,679.61 266.43,675.25 259.87,670.43C253.3,665.6 246.95,660.42 240.52,654.99C234.09,649.56 227.58,643.8 221.28,637.85C214.98,631.91 207.32,624.56 202.72,619.29C198.12,614.02 196.69,610.26 193.68,606.24C190.67,602.22 187.4,599.7 184.63,595.17C181.86,590.64 179.09,583.76 177.07,579.05C175.06,574.35 173.67,570.68 172.54,566.96C171.41,563.25 170.56,559.85 170.3,556.77C170.05,553.7 170.38,551.09 171.03,548.48Z" fill="none" stroke="#ff8c00" stroke-width="2.2" stroke-linejoin="round" stroke-linecap="round" clip-path="url(#cp10)"/>
<path d="M186,564.73C185.93,561.94 186.62,559.87 187.63,558.23C188.64,556.59 190.31,555.61 192.05,554.87C193.8,554.13 194.48,553.47 198.09,553.8C201.69,554.13 208.39,555.13 213.68,556.84C218.97,558.56 223.61,560.67 229.84,564.11C236.06,567.55 244.01,571.97 251.06,577.49C258.1,583.01 265.62,591.15 272.12,597.24C278.61,603.33 281.49,606.23 290.01,614.04C298.53,621.84 313.01,633.67 323.24,644.07C333.47,654.47 344.59,668.21 351.39,676.43C358.19,684.65 361.2,689.33 364.04,693.38C366.87,697.44 368.19,698.71 368.39,700.77C368.59,702.83 367.11,704.84 365.25,705.73C363.39,706.61 360.88,706.75 357.23,706.08C353.59,705.42 349.22,703.89 343.39,701.74C337.55,699.6 329.63,696.65 322.22,693.22C314.81,689.79 306.03,685.35 298.94,681.18C291.86,677 286.16,672.5 279.7,668.15C273.23,663.79 266.7,659.82 260.17,655.03C253.64,650.23 247.06,644.84 240.52,639.39C233.99,633.94 227.51,628.67 220.97,622.35C214.44,616.02 206.1,607.66 201.29,601.45C196.48,595.24 194.3,589.52 192.1,585.1C189.89,580.69 189.05,578.35 188.04,574.96C187.02,571.56 186.07,567.52 186,564.73Z" fill="none" stroke="#ff8c00" stroke-width="2.2" stroke-linejoin="round" stroke-linecap="round" clip-path="url(#cp10)"/>
<path d="M204.5,582.77C204.34,580.48 204.83,577.98 205.58,576.33C206.32,574.69 207.63,573.63 208.97,572.91C210.31,572.19 210.13,571.28 213.6,572.02C217.06,572.77 224.7,575.18 229.76,577.37C234.81,579.56 239.04,581.72 243.92,585.17C248.8,588.61 253.21,592.51 259.02,598.05C264.83,603.59 272.03,611.17 278.76,618.39C285.49,625.6 293.83,634.46 299.4,641.33C304.97,648.21 309.87,655.61 312.18,659.64C314.48,663.67 313.85,663.94 313.24,665.51C312.63,667.09 310.55,668.75 308.52,669.09C306.49,669.43 304.76,669 301.06,667.53C297.37,666.07 292.07,663.66 286.34,660.27C280.61,656.89 273.22,652.01 266.67,647.23C260.12,642.45 253.57,636.83 247.04,631.6C240.51,626.37 233.38,621.32 227.49,615.86C221.6,610.4 215.19,603.17 211.7,598.87C208.22,594.57 207.78,592.75 206.58,590.07C205.38,587.39 204.67,585.06 204.5,582.77Z" fill="none" stroke="#ff8c00" stroke-width="2.2" stroke-linejoin="round" stroke-linecap="round" clip-path="url(#cp10)"/>
<path d="M171.32,548.83C171.96,546.25 173.12,543.33 174.44,541.58C175.76,539.83 177.52,539.05 179.24,538.35C180.96,537.65 181.41,537.22 184.74,537.4C188.06,537.58 194.15,538 199.19,539.43C204.23,540.85 209.8,543.55 214.99,545.97C220.19,548.38 224.36,550.32 230.36,553.9C236.36,557.48 245.22,563.35 251,567.43C256.78,571.5 261.35,575.31 265.04,578.36C268.74,581.41 269.67,582.13 273.2,585.71C276.73,589.28 281.74,595.14 286.21,599.82C290.67,604.5 294.98,609.14 299.98,613.79C304.97,618.43 308.8,620.71 316.18,627.69C323.57,634.68 334.93,646.81 344.28,655.69C353.63,664.58 364.09,673.25 372.28,680.99C380.47,688.73 388.11,696.52 393.41,702.12C398.7,707.71 401.24,711.08 404.04,714.56C406.84,718.04 410.27,720.48 410.2,723C410.13,725.52 408.83,728.88 403.6,729.69C398.36,730.51 386.45,729.26 378.78,727.89C371.1,726.52 366.95,724.87 357.56,721.46C348.17,718.05 332.16,711.59 322.43,707.44C312.69,703.3 306.21,700.51 299.16,696.61C292.11,692.72 286.62,688.42 280.11,684.08C273.6,679.74 266.65,675.39 260.09,670.56C253.52,665.74 247.18,660.56 240.75,655.13C234.32,649.71 227.82,643.95 221.52,638.01C215.22,632.06 207.57,624.73 202.97,619.46C198.38,614.2 196.95,610.44 193.94,606.42C190.93,602.4 187.67,599.89 184.9,595.37C182.14,590.84 179.37,583.97 177.36,579.28C175.34,574.58 173.96,570.91 172.83,567.2C171.7,563.5 170.85,560.12 170.6,557.06C170.35,554 170.68,551.41 171.32,548.83Z" fill="none" stroke="#000080" stroke-width="2.4" stroke-linejoin="round" stroke-linecap="round" clip-path="url(#cp10)"/>
<path d="M186.3,565.02C186.23,562.26 186.91,560.25 187.9,558.63C188.89,557.02 190.52,556.08 192.23,555.35C193.94,554.63 194.59,553.97 198.17,554.3C201.75,554.63 208.44,555.62 213.72,557.33C218.99,559.05 223.62,561.15 229.84,564.59C236.06,568.02 243.99,572.43 251.03,577.95C258.07,583.47 265.59,591.6 272.08,597.69C278.57,603.78 281.45,606.68 289.97,614.48C298.49,622.29 312.97,634.11 323.2,644.51C333.43,654.9 344.54,668.64 351.34,676.85C358.13,685.07 361.15,689.76 363.97,693.8C366.8,697.84 368.08,699.09 368.29,701.1C368.51,703.11 367.09,705 365.27,705.84C363.45,706.69 360.99,706.85 357.37,706.19C353.75,705.52 349.39,704 343.56,701.86C337.73,699.71 329.81,696.76 322.41,693.34C315,689.91 306.23,685.48 299.14,681.3C292.06,677.13 286.37,672.64 279.91,668.28C273.45,663.92 266.91,659.95 260.39,655.16C253.86,650.37 247.28,644.98 240.75,639.54C234.22,634.09 227.75,628.82 221.21,622.5C214.68,616.19 206.35,607.83 201.55,601.63C196.74,595.43 194.58,589.72 192.37,585.31C190.17,580.91 189.34,578.58 188.33,575.2C187.32,571.82 186.37,567.78 186.3,565.02Z" fill="none" stroke="#000080" stroke-width="2.4" stroke-linejoin="round" stroke-linecap="round" clip-path="url(#cp10)"/>
<path d="M204.8,583.05C204.64,580.79 205.13,578.33 205.86,576.72C206.59,575.1 207.87,574.08 209.17,573.38C210.46,572.69 210.22,571.77 213.65,572.52C217.09,573.26 224.74,575.67 229.78,577.86C234.82,580.04 239.04,582.19 243.9,585.63C248.77,589.07 253.18,592.96 258.98,598.49C264.78,604.03 271.99,611.61 278.71,618.82C285.44,626.03 293.78,634.89 299.34,641.76C304.91,648.63 309.8,656.05 312.1,660.05C314.41,664.04 313.74,664.22 313.16,665.74C312.57,667.27 310.58,668.88 308.59,669.19C306.61,669.51 304.91,669.11 301.24,667.65C297.56,666.18 292.27,663.78 286.54,660.4C280.82,657.02 273.43,652.14 266.89,647.37C260.34,642.59 253.79,636.97 247.26,631.75C240.74,626.52 233.61,621.46 227.72,616.01C221.84,610.56 215.43,603.33 211.96,599.04C208.48,594.75 208.05,592.95 206.86,590.29C205.67,587.62 204.97,585.32 204.8,583.05Z" fill="none" stroke="#000080" stroke-width="2.4" stroke-linejoin="round" stroke-linecap="round" clip-path="url(#cp10)"/>
<path d="M172.5,550C173.12,547.5 174.25,544.67 175.5,543C176.75,541.33 178.38,540.65 180,540C181.62,539.35 181.95,538.92 185.2,539.1C188.45,539.28 194.5,539.68 199.5,541.1C204.5,542.52 210.03,545.2 215.2,547.6C220.37,550 224.52,551.93 230.5,555.5C236.48,559.07 245.33,564.93 251.1,569C256.87,573.07 261.42,576.87 265.1,579.9C268.78,582.93 269.68,583.63 273.2,587.2C276.72,590.77 281.73,596.62 286.2,601.3C290.67,605.98 295,610.65 300,615.3C305,619.95 308.82,622.22 316.2,629.2C323.58,636.18 334.95,648.32 344.3,657.2C353.65,666.08 364.12,674.77 372.3,682.5C380.48,690.23 388.12,698.02 393.4,703.6C398.68,709.18 401.23,712.6 404,716C406.77,719.4 410,721.67 410,724C410,726.33 409.1,729.3 404,730C398.9,730.7 387.02,729.57 379.4,728.2C371.78,726.83 367.67,725.2 358.3,721.8C348.93,718.4 332.92,711.93 323.2,707.8C313.48,703.67 307.03,700.88 300,697C292.97,693.12 287.5,688.83 281,684.5C274.5,680.17 267.55,675.82 261,671C254.45,666.18 248.12,661.02 241.7,655.6C235.28,650.18 228.78,644.43 222.5,638.5C216.22,632.57 208.58,625.25 204,620C199.42,614.75 198,611 195,607C192,603 188.75,600.5 186,596C183.25,591.5 180.5,584.67 178.5,580C176.5,575.33 175.12,571.67 174,568C172.88,564.33 172.05,561 171.8,558C171.55,555 171.88,552.5 172.5,550Z" fill="none" stroke="#8b0000" stroke-width="2.8" stroke-linejoin="round" stroke-linecap="round" clip-path="url(#cp10)"/>
<path d="M187.5,566C187.42,563.33 188.08,561.5 189,560C189.92,558.5 191.4,557.67 193,557C194.6,556.33 195.1,555.67 198.6,556C202.1,556.33 208.77,557.3 214,559C219.23,560.7 223.82,562.78 230,566.2C236.18,569.62 244.08,574 251.1,579.5C258.12,585 265.62,593.12 272.1,599.2C278.58,605.28 281.48,608.2 290,616C298.52,623.8 312.98,635.62 323.2,646C333.42,656.38 344.52,670.1 351.3,678.3C358.08,686.5 361.1,691.22 363.9,695.2C366.7,699.18 367.83,700.37 368.1,702.2C368.37,704.03 367.18,705.48 365.5,706.2C363.82,706.92 361.53,707.17 358,706.5C354.47,705.83 350.1,704.33 344.3,702.2C338.5,700.07 330.58,697.12 323.2,693.7C315.82,690.28 307.07,685.87 300,681.7C292.93,677.53 287.25,673.05 280.8,668.7C274.35,664.35 267.82,660.38 261.3,655.6C254.78,650.82 248.22,645.43 241.7,640C235.18,634.57 228.72,629.3 222.2,623C215.68,616.7 207.38,608.37 202.6,602.2C197.82,596.03 195.68,590.37 193.5,586C191.32,581.63 190.5,579.33 189.5,576C188.5,572.67 187.58,568.67 187.5,566Z" fill="none" stroke="#8b0000" stroke-width="2.8" stroke-linejoin="round" stroke-linecap="round" clip-path="url(#cp10)"/>
<path d="M206,584C205.83,581.83 206.33,579.5 207,578C207.67,576.5 208.83,575.63 210,575C211.17,574.37 210.67,573.45 214,574.2C217.33,574.95 225,577.33 230,579.5C235,581.67 239.17,583.78 244,587.2C248.83,590.62 253.22,594.48 259,600C264.78,605.52 271.98,613.1 278.7,620.3C285.42,627.5 293.75,636.35 299.3,643.2C304.85,650.05 309.72,657.52 312,661.4C314.28,665.28 313.5,665.15 313,666.5C312.5,667.85 310.83,669.25 309,669.5C307.17,669.75 305.6,669.45 302,668C298.4,666.55 293.1,664.17 287.4,660.8C281.7,657.43 274.33,652.57 267.8,647.8C261.27,643.03 254.72,637.42 248.2,632.2C241.68,626.98 234.57,621.93 228.7,616.5C222.83,611.07 216.45,603.85 213,599.6C209.55,595.35 209.17,593.6 208,591C206.83,588.4 206.17,586.17 206,584Z" fill="none" stroke="#8b0000" stroke-width="2.8" stroke-linejoin="round" stroke-linecap="round" clip-path="url(#cp10)"/>
<path d="M270.3,787.8C266.83,788.05 263.85,787.97 259.2,788.9C254.55,789.83 247.98,790.62 242.4,793.4C236.82,796.18 231.27,800.4 225.7,805.6C220.13,810.8 214.2,817.72 209,824.6C203.8,831.48 199.15,838.55 194.5,846.9C189.85,855.25 185.18,865.6 181.1,874.7C177.02,883.8 173.03,892.82 170,901.5C166.97,910.18 164.98,918.12 162.9,926.8C160.82,935.48 158.75,945.57 157.5,953.6C156.25,961.63 155.4,968.22 155.4,975C155.4,981.78 156.08,988.95 157.5,994.3C158.92,999.65 161.22,1003.88 163.9,1007.1C166.58,1010.32 170.02,1011.98 173.6,1013.6C177.18,1015.22 181.3,1015.92 185.4,1016.8C189.5,1017.68 194.28,1018.4 198.2,1018.9C202.12,1019.4 201.93,1019.75 208.9,1019.8C215.87,1019.85 230.17,1020.53 240,1019.2C249.83,1017.87 259.57,1014.2 267.9,1011.8C276.23,1009.4 282.63,1007.72 290,1004.8C297.37,1001.88 304.75,998.27 312.1,994.3C319.45,990.33 326.75,986.15 334.1,981C341.45,975.85 349.77,969.1 356.2,963.4C362.63,957.7 367.55,952.32 372.7,946.8C377.85,941.28 383.22,936.1 387.1,930.3C390.98,924.5 393.68,917.38 396,912C398.32,906.62 399,903.67 401,898C403,892.33 408,884.67 408,878C408,871.33 403.8,863.33 401,858C398.2,852.67 394.47,850.43 391.2,846C387.93,841.57 385.2,836 381.4,831.4C377.6,826.8 376.53,823.28 368.4,818.4C360.27,813.52 344,806.7 332.6,802.1C321.2,797.5 308.77,793.25 300,790.8C291.23,788.35 284.95,787.9 280,787.4C275.05,786.9 273.77,787.55 270.3,787.8Z" fill="none" stroke="#ff1493" stroke-width="1.9" stroke-linejoin="round" stroke-linecap="round" clip-path="url(#cp20)"/>
<path d="M259.2,817.3C253.5,817.37 250.45,817.78 245.8,819C241.15,820.22 235.57,822.37 231.3,824.6C227.03,826.83 223.37,829.07 220.2,832.4C217.03,835.73 214.83,840.5 212.3,844.6C209.77,848.7 208.38,850.27 205,857C201.62,863.73 196,877 192,885C188,893 183.58,899.83 181,905C178.42,910.17 177.75,911.5 176.5,916C175.25,920.5 174.17,926.67 173.5,932C172.83,937.33 172.58,942.62 172.5,948C172.42,953.38 172.1,959.08 173,964.3C173.9,969.52 175.48,975.37 177.9,979.3C180.32,983.23 183.58,985.77 187.5,987.9C191.42,990.03 196.93,991.4 201.4,992.1C205.87,992.8 207.87,992.78 214.3,992.1C220.73,991.42 230.72,989.77 240,988C249.28,986.23 261.67,984.53 270,981.5C278.33,978.47 282.98,973.92 290,969.8C297.02,965.68 305.67,961.18 312.1,956.8C318.53,952.42 323.08,948.1 328.6,943.5C334.12,938.9 340.63,933.9 345.2,929.2C349.77,924.5 353.03,919.78 356,915.3C358.97,910.82 361.45,906.7 363,902.3C364.55,897.9 365.33,893.82 365.3,888.9C365.27,883.98 365.12,878.15 362.8,872.8C360.48,867.45 356.53,862.43 351.4,856.8C346.27,851.17 340.57,844.43 332,839C323.43,833.57 308.67,827.6 300,824.2C291.33,820.8 286.8,819.75 280,818.6C273.2,817.45 264.9,817.23 259.2,817.3Z" fill="none" stroke="#ff1493" stroke-width="1.9" stroke-linejoin="round" stroke-linecap="round" clip-path="url(#cp20)"/>
<path d="M253.6,850.2C249.02,850.23 241.92,850.73 236.9,852.4C231.88,854.07 227.97,856.1 223.5,860.2C219.03,864.3 213.52,871.2 210.1,877C206.68,882.8 205.35,888.67 203,895C200.65,901.33 197.95,909.33 196,915C194.05,920.67 192,924.35 191.3,929C190.6,933.65 190.83,938.8 191.8,942.9C192.77,947 194.42,950.83 197.1,953.6C199.78,956.37 203.25,958.43 207.9,959.5C212.55,960.57 219.65,960.45 225,960C230.35,959.55 234.83,958.45 240,956.8C245.17,955.15 250.73,952.82 256,950.1C261.27,947.38 266.6,944.1 271.6,940.5C276.6,936.9 282,932.5 286,928.5C290,924.5 292.98,920.9 295.6,916.5C298.22,912.1 300.48,906.5 301.7,902.1C302.92,897.7 303.1,893.92 302.9,890.1C302.7,886.28 302.32,882.82 300.5,879.2C298.68,875.58 295.42,871.8 292,868.4C288.58,865 284.6,861.5 280,858.8C275.4,856.1 268.8,853.63 264.4,852.2C260,850.77 258.18,850.17 253.6,850.2Z" fill="none" stroke="#ff1493" stroke-width="1.9" stroke-linejoin="round" stroke-linecap="round" clip-path="url(#cp20)"/>
<path d="M276.8,787.4C271.3,787.02 268.77,787.38 263.8,788.5C258.83,789.62 252.4,790.93 247,794.1C241.6,797.27 236.4,801.55 231.4,807.5C226.4,813.45 221.82,821.45 217,829.8C212.18,838.15 207.15,848.32 202.5,857.6C197.85,866.88 193,876.83 189.1,885.5C185.2,894.17 181.68,903.68 179.1,909.6C176.52,915.52 175.42,914.63 173.6,921C171.78,927.37 169.18,939.77 168.2,947.8C167.22,955.83 167.52,962.05 167.7,969.2C167.88,976.35 167.78,984.45 169.3,990.7C170.82,996.95 173.4,1002.42 176.8,1006.7C180.2,1010.98 184.88,1014.33 189.7,1016.4C194.52,1018.47 197.85,1018.75 205.7,1019.1C213.55,1019.45 226.97,1019.85 236.8,1018.5C246.63,1017.15 256.37,1013.4 264.7,1011C273.03,1008.6 279.43,1007 286.8,1004.1C294.17,1001.2 301.55,997.57 308.9,993.6C316.25,989.63 323.55,985.45 330.9,980.3C338.25,975.15 346.57,968.4 353,962.7C359.43,957 364.35,951.62 369.5,946.1C374.65,940.58 380.02,935.35 383.9,929.6C387.78,923.85 390.48,916.93 392.8,911.6C395.12,906.27 395.8,903.27 397.8,897.6C399.8,891.93 404.8,884.27 404.8,877.6C404.8,870.93 400.6,862.85 397.8,857.6C395,852.35 391.27,850.45 388,846.1C384.73,841.75 382,836.1 378.2,831.5C374.4,826.9 373.33,823.38 365.2,818.5C357.07,813.62 340.8,806.82 329.4,802.2C318,797.58 305.57,793.27 296.8,790.8C288.03,788.33 282.3,787.78 276.8,787.4Z" fill="none" stroke="#ff8c00" stroke-width="2.2" stroke-linejoin="round" stroke-linecap="round" clip-path="url(#cp20)"/>
<path d="M259.3,817.5C253.6,818.53 247.98,820.85 242.6,824.2C237.22,827.55 231.83,832.03 227,837.6C222.17,843.17 218.07,849.62 213.6,857.6C209.13,865.58 204.1,876.83 200.2,885.5C196.3,894.17 192.5,903.68 190.2,909.6C187.9,915.52 187.65,915.52 186.4,921C185.15,926.48 183.13,935.35 182.7,942.5C182.27,949.65 182.63,957.48 183.8,963.9C184.97,970.32 186.93,976.72 189.7,981C192.47,985.28 196.48,987.72 200.4,989.6C204.32,991.48 207.13,992.3 213.2,992.3C219.27,992.3 227.87,991.3 236.8,989.6C245.73,987.9 258.47,985.3 266.8,982.1C275.13,978.9 279.78,974.55 286.8,970.4C293.82,966.25 302.47,961.62 308.9,957.2C315.33,952.78 319.88,948.5 325.4,943.9C330.92,939.3 337.43,934.32 342,929.6C346.57,924.88 349.75,920.1 352.8,915.6C355.85,911.1 358.63,907.12 360.3,902.6C361.97,898.08 362.8,893.57 362.8,888.5C362.8,883.43 362.62,877.63 360.3,872.2C357.98,866.77 354.05,861.6 348.9,855.9C343.75,850.2 338.08,843.43 329.4,838C320.72,832.57 305.57,826.63 296.8,823.3C288.03,819.97 283.05,818.97 276.8,818C270.55,817.03 265,816.47 259.3,817.5Z" fill="none" stroke="#ff8c00" stroke-width="2.2" stroke-linejoin="round" stroke-linecap="round" clip-path="url(#cp20)"/>
<path d="M256,849.8C251.73,850.6 244.4,852.62 239.2,855.4C234,858.18 229.07,861.48 224.8,866.5C220.53,871.52 216.52,879.15 213.6,885.5C210.68,891.85 209.1,898.68 207.3,904.6C205.5,910.52 203.92,915.58 202.8,921C201.68,926.42 200.65,932.63 200.6,937.1C200.55,941.57 200.93,944.4 202.5,947.8C204.07,951.2 206.78,955.45 210,957.5C213.22,959.55 217.33,960.02 221.8,960.1C226.27,960.18 231.63,959.33 236.8,958C241.97,956.67 247.53,954.48 252.8,952.1C258.07,949.72 263.4,946.9 268.4,943.7C273.4,940.5 278.4,936.7 282.8,932.9C287.2,929.1 291.38,924.9 294.8,920.9C298.22,916.9 301.28,912.9 303.3,908.9C305.32,904.9 306.3,900.7 306.9,896.9C307.5,893.1 307.7,889.72 306.9,886.1C306.1,882.48 304.52,878.62 302.1,875.2C299.68,871.78 296.62,868.8 292.4,865.6C288.18,862.4 281.4,858.5 276.8,856C272.2,853.5 268.27,851.63 264.8,850.6C261.33,849.57 260.27,849 256,849.8Z" fill="none" stroke="#ff8c00" stroke-width="2.2" stroke-linejoin="round" stroke-linecap="round" clip-path="url(#cp20)"/>
<path d="M277.9,787.8C272.4,787.42 269.87,787.78 264.9,788.9C259.93,790.02 253.5,791.33 248.1,794.5C242.7,797.67 237.5,801.95 232.5,807.9C227.5,813.85 222.92,821.85 218.1,830.2C213.28,838.55 208.25,848.72 203.6,858C198.95,867.28 194.1,877.23 190.2,885.9C186.3,894.57 182.78,904.08 180.2,910C177.62,915.92 176.52,915.03 174.7,921.4C172.88,927.77 170.28,940.17 169.3,948.2C168.32,956.23 168.62,962.45 168.8,969.6C168.98,976.75 168.88,984.85 170.4,991.1C171.92,997.35 174.5,1002.82 177.9,1007.1C181.3,1011.38 185.98,1014.73 190.8,1016.8C195.62,1018.87 198.95,1019.15 206.8,1019.5C214.65,1019.85 228.07,1020.25 237.9,1018.9C247.73,1017.55 257.47,1013.8 265.8,1011.4C274.13,1009 280.53,1007.4 287.9,1004.5C295.27,1001.6 302.65,997.97 310,994C317.35,990.03 324.65,985.85 332,980.7C339.35,975.55 347.67,968.8 354.1,963.1C360.53,957.4 365.45,952.02 370.6,946.5C375.75,940.98 381.12,935.75 385,930C388.88,924.25 391.58,917.33 393.9,912C396.22,906.67 396.9,903.67 398.9,898C400.9,892.33 405.9,884.67 405.9,878C405.9,871.33 401.7,863.25 398.9,858C396.1,852.75 392.37,850.85 389.1,846.5C385.83,842.15 383.1,836.5 379.3,831.9C375.5,827.3 374.43,823.78 366.3,818.9C358.17,814.02 341.9,807.22 330.5,802.6C319.1,797.98 306.67,793.67 297.9,791.2C289.13,788.73 283.4,788.18 277.9,787.8Z" fill="none" stroke="#000080" stroke-width="2.4" stroke-linejoin="round" stroke-linecap="round" clip-path="url(#cp20)"/>
<path d="M260.4,817.9C254.7,818.93 249.08,821.25 243.7,824.6C238.32,827.95 232.93,832.43 228.1,838C223.27,843.57 219.17,850.02 214.7,858C210.23,865.98 205.2,877.23 201.3,885.9C197.4,894.57 193.6,904.08 191.3,910C189,915.92 188.75,915.92 187.5,921.4C186.25,926.88 184.23,935.75 183.8,942.9C183.37,950.05 183.73,957.88 184.9,964.3C186.07,970.72 188.03,977.12 190.8,981.4C193.57,985.68 197.58,988.12 201.5,990C205.42,991.88 208.23,992.7 214.3,992.7C220.37,992.7 228.97,991.7 237.9,990C246.83,988.3 259.57,985.7 267.9,982.5C276.23,979.3 280.88,974.95 287.9,970.8C294.92,966.65 303.57,962.02 310,957.6C316.43,953.18 320.98,948.9 326.5,944.3C332.02,939.7 338.53,934.72 343.1,930C347.67,925.28 350.85,920.5 353.9,916C356.95,911.5 359.73,907.52 361.4,903C363.07,898.48 363.9,893.97 363.9,888.9C363.9,883.83 363.72,878.03 361.4,872.6C359.08,867.17 355.15,862 350,856.3C344.85,850.6 339.18,843.83 330.5,838.4C321.82,832.97 306.67,827.03 297.9,823.7C289.13,820.37 284.15,819.37 277.9,818.4C271.65,817.43 266.1,816.87 260.4,817.9Z" fill="none" stroke="#000080" stroke-width="2.4" stroke-linejoin="round" stroke-linecap="round" clip-path="url(#cp20)"/>
<path d="M257.1,850.2C252.83,851 245.5,853.02 240.3,855.8C235.1,858.58 230.17,861.88 225.9,866.9C221.63,871.92 217.62,879.55 214.7,885.9C211.78,892.25 210.2,899.08 208.4,905C206.6,910.92 205.02,915.98 203.9,921.4C202.78,926.82 201.75,933.03 201.7,937.5C201.65,941.97 202.03,944.8 203.6,948.2C205.17,951.6 207.88,955.85 211.1,957.9C214.32,959.95 218.43,960.42 222.9,960.5C227.37,960.58 232.73,959.73 237.9,958.4C243.07,957.07 248.63,954.88 253.9,952.5C259.17,950.12 264.5,947.3 269.5,944.1C274.5,940.9 279.5,937.1 283.9,933.3C288.3,929.5 292.48,925.3 295.9,921.3C299.32,917.3 302.38,913.3 304.4,909.3C306.42,905.3 307.4,901.1 308,897.3C308.6,893.5 308.8,890.12 308,886.5C307.2,882.88 305.62,879.02 303.2,875.6C300.78,872.18 297.72,869.2 293.5,866C289.28,862.8 282.5,858.9 277.9,856.4C273.3,853.9 269.37,852.03 265.9,851C262.43,849.97 261.37,849.4 257.1,850.2Z" fill="none" stroke="#000080" stroke-width="2.4" stroke-linejoin="round" stroke-linecap="round" clip-path="url(#cp20)"/>
<path d="M280,787.8C274.5,787.42 271.97,787.78 267,788.9C262.03,790.02 255.6,791.33 250.2,794.5C244.8,797.67 239.6,801.95 234.6,807.9C229.6,813.85 225.02,821.85 220.2,830.2C215.38,838.55 210.35,848.72 205.7,858C201.05,867.28 196.2,877.23 192.3,885.9C188.4,894.57 184.88,904.08 182.3,910C179.72,915.92 178.62,915.03 176.8,921.4C174.98,927.77 172.38,940.17 171.4,948.2C170.42,956.23 170.72,962.45 170.9,969.6C171.08,976.75 170.98,984.85 172.5,991.1C174.02,997.35 176.6,1002.82 180,1007.1C183.4,1011.38 188.08,1014.73 192.9,1016.8C197.72,1018.87 201.05,1019.15 208.9,1019.5C216.75,1019.85 230.17,1020.25 240,1018.9C249.83,1017.55 259.57,1013.8 267.9,1011.4C276.23,1009 282.63,1007.4 290,1004.5C297.37,1001.6 304.75,997.97 312.1,994C319.45,990.03 326.75,985.85 334.1,980.7C341.45,975.55 349.77,968.8 356.2,963.1C362.63,957.4 367.55,952.02 372.7,946.5C377.85,940.98 383.22,935.75 387.1,930C390.98,924.25 393.68,917.33 396,912C398.32,906.67 399,903.67 401,898C403,892.33 408,884.67 408,878C408,871.33 403.8,863.25 401,858C398.2,852.75 394.47,850.85 391.2,846.5C387.93,842.15 385.2,836.5 381.4,831.9C377.6,827.3 376.53,823.78 368.4,818.9C360.27,814.02 344,807.22 332.6,802.6C321.2,797.98 308.77,793.67 300,791.2C291.23,788.73 285.5,788.18 280,787.8Z" fill="none" stroke="#8b0000" stroke-width="2.8" stroke-linejoin="round" stroke-linecap="round" clip-path="url(#cp20)"/>
<path d="M262.5,817.9C256.8,818.93 251.18,821.25 245.8,824.6C240.42,827.95 235.03,832.43 230.2,838C225.37,843.57 221.27,850.02 216.8,858C212.33,865.98 207.3,877.23 203.4,885.9C199.5,894.57 195.7,904.08 193.4,910C191.1,915.92 190.85,915.92 189.6,921.4C188.35,926.88 186.33,935.75 185.9,942.9C185.47,950.05 185.83,957.88 187,964.3C188.17,970.72 190.13,977.12 192.9,981.4C195.67,985.68 199.68,988.12 203.6,990C207.52,991.88 210.33,992.7 216.4,992.7C222.47,992.7 231.07,991.7 240,990C248.93,988.3 261.67,985.7 270,982.5C278.33,979.3 282.98,974.95 290,970.8C297.02,966.65 305.67,962.02 312.1,957.6C318.53,953.18 323.08,948.9 328.6,944.3C334.12,939.7 340.63,934.72 345.2,930C349.77,925.28 352.95,920.5 356,916C359.05,911.5 361.83,907.52 363.5,903C365.17,898.48 366,893.97 366,888.9C366,883.83 365.82,878.03 363.5,872.6C361.18,867.17 357.25,862 352.1,856.3C346.95,850.6 341.28,843.83 332.6,838.4C323.92,832.97 308.77,827.03 300,823.7C291.23,820.37 286.25,819.37 280,818.4C273.75,817.43 268.2,816.87 262.5,817.9Z" fill="none" stroke="#8b0000" stroke-width="2.8" stroke-linejoin="round" stroke-linecap="round" clip-path="url(#cp20)"/>
<path d="M259.2,850.2C254.93,851 247.6,853.02 242.4,855.8C237.2,858.58 232.27,861.88 228,866.9C223.73,871.92 219.72,879.55 216.8,885.9C213.88,892.25 212.3,899.08 210.5,905C208.7,910.92 207.12,915.98 206,921.4C204.88,926.82 203.85,933.03 203.8,937.5C203.75,941.97 204.13,944.8 205.7,948.2C207.27,951.6 209.98,955.85 213.2,957.9C216.42,959.95 220.53,960.42 225,960.5C229.47,960.58 234.83,959.73 240,958.4C245.17,957.07 250.73,954.88 256,952.5C261.27,950.12 266.6,947.3 271.6,944.1C276.6,940.9 281.6,937.1 286,933.3C290.4,929.5 294.58,925.3 298,921.3C301.42,917.3 304.48,913.3 306.5,909.3C308.52,905.3 309.5,901.1 310.1,897.3C310.7,893.5 310.9,890.12 310.1,886.5C309.3,882.88 307.72,879.02 305.3,875.6C302.88,872.18 299.82,869.2 295.6,866C291.38,862.8 284.6,858.9 280,856.4C275.4,853.9 271.47,852.03 268,851C264.53,849.97 263.47,849.4 259.2,850.2Z" fill="none" stroke="#8b0000" stroke-width="2.8" stroke-linejoin="round" stroke-linecap="round" clip-path="url(#cp20)"/>
<path d="M573.4,788.4C578.98,788.92 584.62,789.35 590.2,791.1C595.78,792.85 602.27,795.55 606.9,798.9C611.53,802.25 614.67,806.55 618,811.2C621.33,815.85 624.3,820.85 626.9,826.8C629.5,832.75 631.92,839.83 633.6,846.9C635.28,853.97 636.17,861.78 637,869.2C637.83,876.62 638.42,882.55 638.6,891.4C638.78,900.25 638.75,913.43 638.1,922.3C637.45,931.17 636.57,937.17 634.7,944.6C632.83,952.03 630.05,959.85 626.9,966.9C623.75,973.95 620.43,980.97 615.8,986.9C611.17,992.83 605.23,998.42 599.1,1002.5C592.97,1006.58 585.13,1009.17 579,1011.4C572.87,1013.63 568.8,1014.68 562.3,1015.9C555.8,1017.12 548.5,1018.45 540,1018.7C531.5,1018.95 519.35,1018.07 511.3,1017.4C503.25,1016.73 497.78,1016.23 491.7,1014.7C485.62,1013.17 480.23,1010.48 474.8,1008.2C469.37,1005.92 463.88,1004.53 459.1,1001C454.32,997.47 450.1,992.32 446.1,987C442.1,981.68 437.93,975.33 435.1,969.1C432.27,962.87 430.22,956.77 429.1,949.6C427.98,942.43 428.32,932.7 428.4,926.1C428.48,919.5 428.28,918.05 429.6,910C430.92,901.95 433.65,886.87 436.3,877.8C438.95,868.73 441.77,862.8 445.5,855.6C449.23,848.4 454.28,840.53 458.7,834.6C463.12,828.67 468.23,823.52 472,820C475.77,816.48 476.93,816.1 481.3,813.5C485.67,810.9 492.12,807.45 498.2,804.4C504.28,801.35 511.27,797.6 517.8,795.2C524.33,792.8 530.92,791.2 537.4,790C543.88,788.8 550.7,788.27 556.7,788C562.7,787.73 567.82,787.88 573.4,788.4Z" fill="none" stroke="#ff1493" stroke-width="1.9" stroke-linejoin="round" stroke-linecap="round" clip-path="url(#cp21)"/>
<path d="M567.9,819.6C573.67,820.3 579.4,821.37 584.6,823.5C589.8,825.63 595.02,828.88 599.1,832.4C603.18,835.92 606.5,840.33 609.1,844.6C611.7,848.87 613.22,852.98 614.7,858C616.18,863.02 617.08,869.13 618,874.7C618.92,880.27 619.62,885.52 620.2,891.4C620.78,897.28 621.45,904.4 621.5,910C621.55,915.6 621.25,920 620.5,925C619.75,930 618.42,935.83 617,940C615.58,944.17 613.68,947.38 612,950C610.32,952.62 610.53,951.58 606.9,955.7C603.27,959.82 595.78,969.87 590.2,974.7C584.62,979.53 578.98,982.38 573.4,984.7C567.82,987.02 562.27,987.72 556.7,988.6C551.13,989.48 544.32,989.72 540,990C535.68,990.28 535.58,990.68 530.8,990.3C526.02,989.92 517.38,989.23 511.3,987.7C505.22,986.17 499.73,983.93 494.3,981.1C488.87,978.27 483.48,974.82 478.7,970.7C473.92,966.58 469.3,961.62 465.6,956.4C461.9,951.18 458.88,945.48 456.5,939.4C454.12,933.32 452.28,925.63 451.3,919.9C450.32,914.17 450.17,909.85 450.6,905C451.03,900.15 452.05,895.98 453.9,890.8C455.75,885.62 458.22,879.55 461.7,873.9C465.18,868.25 470.02,862.12 474.8,856.9C479.58,851.68 484.75,846.93 490.4,842.6C496.05,838.27 502.4,834.17 508.7,830.9C515,827.63 521.32,824.93 528.2,823C535.08,821.07 543.38,819.87 550,819.3C556.62,818.73 562.13,818.9 567.9,819.6Z" fill="none" stroke="#ff1493" stroke-width="1.9" stroke-linejoin="round" stroke-linecap="round" clip-path="url(#cp21)"/>
<path d="M562.3,850.8C566.77,851.05 572.53,853.3 576.8,855.8C581.07,858.3 584.75,862.08 587.9,865.8C591.05,869.52 593.65,873.83 595.7,878.1C597.75,882.37 599.37,887.75 600.2,891.4C601.03,895.05 600.88,895.78 600.7,900C600.52,904.22 600.3,911.13 599.1,916.7C597.9,922.27 595.92,928.57 593.5,933.4C591.08,938.23 588.32,942.35 584.6,945.7C580.88,949.05 575.85,951.55 571.2,953.5C566.55,955.45 561.9,956.65 556.7,957.4C551.5,958.15 543.67,957.87 540,958C536.33,958.13 537.97,958.7 534.7,958.2C531.43,957.7 525.17,956.85 520.4,955C515.63,953.15 510.23,950.37 506.1,947.1C501.97,943.83 498.08,939.92 495.6,935.4C493.12,930.88 491.85,925.07 491.2,920C490.55,914.93 490.97,909.87 491.7,905C492.43,900.13 493.42,895.55 495.6,890.8C497.78,886.05 501.1,880.62 504.8,876.5C508.5,872.38 513.03,869.15 517.8,866.1C522.57,863.05 528.03,860.17 533.4,858.2C538.77,856.23 545.18,855.53 550,854.3C554.82,853.07 557.83,850.55 562.3,850.8Z" fill="none" stroke="#ff1493" stroke-width="1.9" stroke-linejoin="round" stroke-linecap="round" clip-path="url(#cp21)"/>
<path d="M551.22,789.9C554.43,789.57 554.01,789.13 557.9,789.2C561.78,789.27 569.37,788.92 574.55,790.29C579.73,791.67 584.72,794.41 588.98,797.46C593.25,800.52 596.62,803.98 600.14,808.62C603.66,813.26 607.34,818.79 610.12,825.28C612.89,831.77 615.22,840.12 616.8,847.54C618.39,854.96 618.95,862.41 619.6,869.82C620.25,877.23 620.57,886.04 620.7,892C620.83,897.97 620.68,900.44 620.4,905.59C620.12,910.73 619.97,916.28 619,922.87C618.04,929.46 616.84,937.72 614.61,945.14C612.38,952.57 609.15,960.37 605.62,967.41C602.09,974.45 598.07,981.46 593.44,987.38C588.82,993.3 583.45,998.67 577.88,1002.94C572.31,1007.22 565.3,1010.41 560.01,1013.02C554.72,1015.63 550.82,1017.49 546.15,1018.61C541.48,1019.72 537.6,1019.52 531.99,1019.7C526.39,1019.88 518.8,1019.92 512.51,1019.7C506.21,1019.48 500.31,1019.6 494.24,1018.4C488.17,1017.21 481.72,1015.23 476.09,1012.52C470.45,1009.81 465.2,1006.25 460.43,1002.15C455.66,998.04 451.37,993.3 447.46,987.88C443.55,982.46 439.69,975.91 436.98,969.62C434.27,963.34 432.28,957.32 431.2,950.17C430.12,943.02 430.4,933.29 430.5,926.7C430.6,920.11 430.48,918.67 431.8,910.63C433.11,902.59 435.78,887.51 438.39,878.46C441.01,869.4 443.8,863.45 447.48,856.29C451.16,849.14 456.12,841.38 460.46,835.52C464.8,829.66 469.85,824.62 473.54,821.15C477.23,817.67 478.28,817.27 482.6,814.67C486.93,812.08 493.41,808.63 499.49,805.58C505.57,802.53 512.54,798.78 519.07,796.39C525.59,793.99 533.28,792.28 538.64,791.2C544,790.11 548.01,790.23 551.22,789.9Z" fill="none" stroke="#ff8c00" stroke-width="2.2" stroke-linejoin="round" stroke-linecap="round" clip-path="url(#cp21)"/>
<path d="M551.23,819.9C555.97,819.23 554.36,819.45 557.88,819.8C561.4,820.15 567.7,820.33 572.33,821.99C576.96,823.65 581.78,826.23 585.67,829.75C589.55,833.27 593.03,838.28 595.62,843.09C598.21,847.91 599.81,852.34 601.2,858.64C602.6,864.95 603.48,873.92 604,880.91C604.52,887.91 604.4,893.6 604.3,900.6C604.2,907.59 604.28,915.83 603.4,922.88C602.52,929.92 600.86,936.72 599.01,942.84C597.16,948.96 594.93,954.6 592.32,959.61C589.71,964.61 587.24,968.79 583.36,972.86C579.47,976.93 574.19,981.23 569.01,984.02C563.82,986.81 558.43,988.54 552.27,989.6C546.1,990.67 538.63,990.7 532.01,990.4C525.39,990.1 518.62,989.34 512.55,987.81C506.48,986.28 501.01,984.05 495.59,981.22C490.17,978.4 484.8,974.95 480.03,970.85C475.26,966.74 470.65,961.79 466.96,956.58C463.27,951.38 460.26,945.7 457.89,939.63C455.51,933.56 453.71,925.83 452.7,920.16C451.68,914.5 451.37,910.4 451.8,905.62C452.23,900.84 453.41,896.64 455.29,891.47C457.17,886.3 459.59,880.24 463.07,874.6C466.55,868.97 471.37,862.84 476.15,857.64C480.92,852.43 486.08,847.68 491.72,843.36C497.36,839.03 503.7,834.94 509.99,831.68C516.28,828.42 522.58,825.76 529.45,823.79C536.33,821.83 546.49,820.56 551.23,819.9Z" fill="none" stroke="#ff8c00" stroke-width="2.2" stroke-linejoin="round" stroke-linecap="round" clip-path="url(#cp21)"/>
<path d="M552.3,852.7C556.44,852.6 559.92,851.81 563.43,853.19C566.93,854.56 570.59,857.78 573.35,860.93C576.11,864.08 578.35,867.81 580.01,872.07C581.67,876.34 582.65,881.77 583.3,886.53C583.95,891.28 583.98,895.47 583.9,900.6C583.82,905.72 583.63,911.72 582.8,917.27C581.97,922.83 580.86,928.93 578.91,933.93C576.97,938.93 574.3,943.75 571.15,947.27C568,950.78 564.08,953.16 560.02,955.02C555.95,956.87 550.79,957.84 546.77,958.4C542.76,958.97 540.11,958.93 535.93,958.4C531.74,957.87 526.42,957.06 521.67,955.21C516.92,953.37 511.54,950.6 507.42,947.34C503.31,944.09 499.79,940.23 496.97,935.69C494.15,931.16 491.79,925.16 490.49,920.15C489.2,915.14 488.98,910.39 489.2,905.61C489.42,900.83 490.06,896.2 491.79,891.47C493.51,886.74 496.3,881.54 499.56,877.22C502.82,872.9 506.98,868.82 511.32,865.56C515.66,862.3 521.03,859.64 525.58,857.68C530.13,855.72 534.18,854.63 538.64,853.8C543.09,852.97 548.17,852.8 552.3,852.7Z" fill="none" stroke="#ff8c00" stroke-width="2.2" stroke-linejoin="round" stroke-linecap="round" clip-path="url(#cp21)"/>
<path d="M552,789.4C555.22,789.07 554.8,788.63 558.7,788.7C562.6,788.77 570.2,788.42 575.4,789.8C580.6,791.18 585.62,793.93 589.9,797C594.18,800.07 597.57,803.55 601.1,808.2C604.63,812.85 608.32,818.4 611.1,824.9C613.88,831.4 616.22,839.77 617.8,847.2C619.38,854.63 619.95,862.08 620.6,869.5C621.25,876.92 621.57,885.73 621.7,891.7C621.83,897.67 621.68,900.15 621.4,905.3C621.12,910.45 620.97,916 620,922.6C619.03,929.2 617.83,937.47 615.6,944.9C613.37,952.33 610.13,960.15 606.6,967.2C603.07,974.25 599.03,981.27 594.4,987.2C589.77,993.13 584.38,998.52 578.8,1002.8C573.22,1007.08 566.2,1010.28 560.9,1012.9C555.6,1015.52 551.68,1017.38 547,1018.5C542.32,1019.62 538.42,1019.42 532.8,1019.6C527.18,1019.78 519.6,1019.82 513.3,1019.6C507,1019.38 501.08,1019.5 495,1018.3C488.92,1017.1 482.45,1015.12 476.8,1012.4C471.15,1009.68 465.88,1006.12 461.1,1002C456.32,997.88 452.02,993.13 448.1,987.7C444.18,982.27 440.32,975.7 437.6,969.4C434.88,963.1 432.88,957.07 431.8,949.9C430.72,942.73 431,933 431.1,926.4C431.2,919.8 431.08,918.35 432.4,910.3C433.72,902.25 436.38,887.17 439,878.1C441.62,869.03 444.42,863.07 448.1,855.9C451.78,848.73 456.75,840.97 461.1,835.1C465.45,829.23 470.5,824.18 474.2,820.7C477.9,817.22 478.97,816.8 483.3,814.2C487.63,811.6 494.12,808.15 500.2,805.1C506.28,802.05 513.27,798.3 519.8,795.9C526.33,793.5 534.03,791.78 539.4,790.7C544.77,789.62 548.78,789.73 552,789.4Z" fill="none" stroke="#000080" stroke-width="2.4" stroke-linejoin="round" stroke-linecap="round" clip-path="url(#cp21)"/>
<path d="M552,819.4C556.75,818.73 555.17,818.95 558.7,819.3C562.23,819.65 568.55,819.83 573.2,821.5C577.85,823.17 582.7,825.77 586.6,829.3C590.5,832.83 594,837.87 596.6,842.7C599.2,847.53 600.8,851.98 602.2,858.3C603.6,864.62 604.48,873.6 605,880.6C605.52,887.6 605.4,893.3 605.3,900.3C605.2,907.3 605.28,915.55 604.4,922.6C603.52,929.65 601.85,936.47 600,942.6C598.15,948.73 595.92,954.38 593.3,959.4C590.68,964.42 588.2,968.62 584.3,972.7C580.4,976.78 575.1,981.1 569.9,983.9C564.7,986.7 559.28,988.43 553.1,989.5C546.92,990.57 539.43,990.6 532.8,990.3C526.17,990 519.38,989.23 513.3,987.7C507.22,986.17 501.73,983.93 496.3,981.1C490.87,978.27 485.48,974.82 480.7,970.7C475.92,966.58 471.3,961.62 467.6,956.4C463.9,951.18 460.88,945.48 458.5,939.4C456.12,933.32 454.32,925.58 453.3,919.9C452.28,914.22 451.97,910.1 452.4,905.3C452.83,900.5 454.02,896.28 455.9,891.1C457.78,885.92 460.22,879.85 463.7,874.2C467.18,868.55 472.02,862.42 476.8,857.2C481.58,851.98 486.75,847.23 492.4,842.9C498.05,838.57 504.4,834.47 510.7,831.2C517,827.93 523.32,825.27 530.2,823.3C537.08,821.33 547.25,820.07 552,819.4Z" fill="none" stroke="#000080" stroke-width="2.4" stroke-linejoin="round" stroke-linecap="round" clip-path="url(#cp21)"/>
<path d="M553.1,852.2C557.25,852.1 560.77,851.32 564.3,852.7C567.83,854.08 571.52,857.33 574.3,860.5C577.08,863.67 579.33,867.42 581,871.7C582.67,875.98 583.65,881.43 584.3,886.2C584.95,890.97 584.98,895.17 584.9,900.3C584.82,905.43 584.63,911.43 583.8,917C582.97,922.57 581.85,928.68 579.9,933.7C577.95,938.72 575.27,943.57 572.1,947.1C568.93,950.63 564.98,953.03 560.9,954.9C556.82,956.77 551.63,957.73 547.6,958.3C543.57,958.87 540.9,958.83 536.7,958.3C532.5,957.77 527.17,956.95 522.4,955.1C517.63,953.25 512.23,950.47 508.1,947.2C503.97,943.93 500.43,940.05 497.6,935.5C494.77,930.95 492.4,924.93 491.1,919.9C489.8,914.87 489.58,910.1 489.8,905.3C490.02,900.5 490.67,895.85 492.4,891.1C494.13,886.35 496.93,881.13 500.2,876.8C503.47,872.47 507.65,868.37 512,865.1C516.35,861.83 521.73,859.17 526.3,857.2C530.87,855.23 534.93,854.13 539.4,853.3C543.87,852.47 548.95,852.3 553.1,852.2Z" fill="none" stroke="#000080" stroke-width="2.4" stroke-linejoin="round" stroke-linecap="round" clip-path="url(#cp21)"/>
<path d="M550,789.1C553.22,788.77 552.8,788.33 556.7,788.4C560.6,788.47 568.2,788.12 573.4,789.5C578.6,790.88 583.62,793.63 587.9,796.7C592.18,799.77 595.57,803.25 599.1,807.9C602.63,812.55 606.32,818.1 609.1,824.6C611.88,831.1 614.22,839.47 615.8,846.9C617.38,854.33 617.95,861.78 618.6,869.2C619.25,876.62 619.57,885.43 619.7,891.4C619.83,897.37 619.68,899.85 619.4,905C619.12,910.15 618.97,915.7 618,922.3C617.03,928.9 615.83,937.17 613.6,944.6C611.37,952.03 608.13,959.85 604.6,966.9C601.07,973.95 597.03,980.97 592.4,986.9C587.77,992.83 582.38,998.22 576.8,1002.5C571.22,1006.78 564.2,1009.98 558.9,1012.6C553.6,1015.22 549.68,1017.08 545,1018.2C540.32,1019.32 536.42,1019.12 530.8,1019.3C525.18,1019.48 517.6,1019.52 511.3,1019.3C505,1019.08 499.08,1019.2 493,1018C486.92,1016.8 480.45,1014.82 474.8,1012.1C469.15,1009.38 463.88,1005.82 459.1,1001.7C454.32,997.58 450.02,992.83 446.1,987.4C442.18,981.97 438.32,975.4 435.6,969.1C432.88,962.8 430.88,956.77 429.8,949.6C428.72,942.43 429,932.7 429.1,926.1C429.2,919.5 429.08,918.05 430.4,910C431.72,901.95 434.38,886.87 437,877.8C439.62,868.73 442.42,862.77 446.1,855.6C449.78,848.43 454.75,840.67 459.1,834.8C463.45,828.93 468.5,823.88 472.2,820.4C475.9,816.92 476.97,816.5 481.3,813.9C485.63,811.3 492.12,807.85 498.2,804.8C504.28,801.75 511.27,798 517.8,795.6C524.33,793.2 532.03,791.48 537.4,790.4C542.77,789.32 546.78,789.43 550,789.1Z" fill="none" stroke="#8b0000" stroke-width="2.8" stroke-linejoin="round" stroke-linecap="round" clip-path="url(#cp21)"/>
<path d="M550,819.1C554.75,818.43 553.17,818.65 556.7,819C560.23,819.35 566.55,819.53 571.2,821.2C575.85,822.87 580.7,825.47 584.6,829C588.5,832.53 592,837.57 594.6,842.4C597.2,847.23 598.8,851.68 600.2,858C601.6,864.32 602.48,873.3 603,880.3C603.52,887.3 603.4,893 603.3,900C603.2,907 603.28,915.25 602.4,922.3C601.52,929.35 599.85,936.17 598,942.3C596.15,948.43 593.92,954.08 591.3,959.1C588.68,964.12 586.2,968.32 582.3,972.4C578.4,976.48 573.1,980.8 567.9,983.6C562.7,986.4 557.28,988.13 551.1,989.2C544.92,990.27 537.43,990.3 530.8,990C524.17,989.7 517.38,988.93 511.3,987.4C505.22,985.87 499.73,983.63 494.3,980.8C488.87,977.97 483.48,974.52 478.7,970.4C473.92,966.28 469.3,961.32 465.6,956.1C461.9,950.88 458.88,945.18 456.5,939.1C454.12,933.02 452.32,925.28 451.3,919.6C450.28,913.92 449.97,909.8 450.4,905C450.83,900.2 452.02,895.98 453.9,890.8C455.78,885.62 458.22,879.55 461.7,873.9C465.18,868.25 470.02,862.12 474.8,856.9C479.58,851.68 484.75,846.93 490.4,842.6C496.05,838.27 502.4,834.17 508.7,830.9C515,827.63 521.32,824.97 528.2,823C535.08,821.03 545.25,819.77 550,819.1Z" fill="none" stroke="#8b0000" stroke-width="2.8" stroke-linejoin="round" stroke-linecap="round" clip-path="url(#cp21)"/>
<path d="M551.1,851.9C555.25,851.8 558.77,851.02 562.3,852.4C565.83,853.78 569.52,857.03 572.3,860.2C575.08,863.37 577.33,867.12 579,871.4C580.67,875.68 581.65,881.13 582.3,885.9C582.95,890.67 582.98,894.87 582.9,900C582.82,905.13 582.63,911.13 581.8,916.7C580.97,922.27 579.85,928.38 577.9,933.4C575.95,938.42 573.27,943.27 570.1,946.8C566.93,950.33 562.98,952.73 558.9,954.6C554.82,956.47 549.63,957.43 545.6,958C541.57,958.57 538.9,958.53 534.7,958C530.5,957.47 525.17,956.65 520.4,954.8C515.63,952.95 510.23,950.17 506.1,946.9C501.97,943.63 498.43,939.75 495.6,935.2C492.77,930.65 490.4,924.63 489.1,919.6C487.8,914.57 487.58,909.8 487.8,905C488.02,900.2 488.67,895.55 490.4,890.8C492.13,886.05 494.93,880.83 498.2,876.5C501.47,872.17 505.65,868.07 510,864.8C514.35,861.53 519.73,858.87 524.3,856.9C528.87,854.93 532.93,853.83 537.4,853C541.87,852.17 546.95,852 551.1,851.9Z" fill="none" stroke="#8b0000" stroke-width="2.8" stroke-linejoin="round" stroke-linecap="round" clip-path="url(#cp21)"/>
<line x1="104.45" y1="175" x2="400.15" y2="175" stroke="#000" stroke-width="1.1"/>
<line x1="104.45" y1="467" x2="694.95" y2="467" stroke="#000" stroke-width="1.1"/>
<line x1="104.45" y1="759" x2="989.95" y2="759" stroke="#000" stroke-width="1.1"/>
<line x1="104.45" y1="1050.5" x2="989.95" y2="1050.5" stroke="#000" stroke-width="1.1"/>
<line x1="105" y1="175" x2="105" y2="1050.5" stroke="#000" stroke-width="1.1"/>
<line x1="399.6" y1="175" x2="399.6" y2="1050.5" stroke="#000" stroke-width="1.1"/>
<line x1="694.4" y1="467" x2="694.4" y2="1050.5" stroke="#000" stroke-width="1.1"/>
<line x1="989.4" y1="759" x2="989.4" y2="1050.5" stroke="#000" stroke-width="1.1"/>
<line x1="105.22" y1="467" x2="105.22" y2="462.7" stroke="#000" stroke-width="1.1"/>
<line x1="124.85" y1="467" x2="124.85" y2="462.7" stroke="#000" stroke-width="1.1"/>
<line x1="144.47" y1="467" x2="144.47" y2="462.7" stroke="#000" stroke-width="1.1"/>
<line x1="164.1" y1="467" x2="164.1" y2="459" stroke="#000" stroke-width="1.1"/>
<line x1="183.72" y1="467" x2="183.72" y2="462.7" stroke="#000" stroke-width="1.1"/>
<line x1="203.35" y1="467" x2="203.35" y2="462.7" stroke="#000" stroke-width="1.1"/>
<line x1="222.97" y1="467" x2="222.97" y2="462.7" stroke="#000" stroke-width="1.1"/>
<line x1="242.6" y1="467" x2="242.6" y2="459" stroke="#000" stroke-width="1.1"/>
<line x1="262.23" y1="467" x2="262.23" y2="462.7" stroke="#000" stroke-width="1.1"/>
<line x1="281.85" y1="467" x2="281.85" y2="462.7" stroke="#000" stroke-width="1.1"/>
<line x1="301.48" y1="467" x2="301.48" y2="462.7" stroke="#000" stroke-width="1.1"/>
<line x1="321.1" y1="467" x2="321.1" y2="459" stroke="#000" stroke-width="1.1"/>
<line x1="340.73" y1="467" x2="340.73" y2="462.7" stroke="#000" stroke-width="1.1"/>
<line x1="360.35" y1="467" x2="360.35" y2="462.7" stroke="#000" stroke-width="1.1"/>
<line x1="379.98" y1="467" x2="379.98" y2="462.7" stroke="#000" stroke-width="1.1"/>
<line x1="399.6" y1="467" x2="399.6" y2="462.7" stroke="#000" stroke-width="1.1"/>
<line x1="105.22" y1="759" x2="105.22" y2="754.7" stroke="#000" stroke-width="1.1"/>
<line x1="105.22" y1="467" x2="105.22" y2="471.3" stroke="#000" stroke-width="1.1"/>
<line x1="124.85" y1="759" x2="124.85" y2="754.7" stroke="#000" stroke-width="1.1"/>
<line x1="124.85" y1="467" x2="124.85" y2="471.3" stroke="#000" stroke-width="1.1"/>
<line x1="144.47" y1="759" x2="144.47" y2="754.7" stroke="#000" stroke-width="1.1"/>
<line x1="144.47" y1="467" x2="144.47" y2="471.3" stroke="#000" stroke-width="1.1"/>
<line x1="164.1" y1="759" x2="164.1" y2="751" stroke="#000" stroke-width="1.1"/>
<line x1="164.1" y1="467" x2="164.1" y2="475" stroke="#000" stroke-width="1.1"/>
<line x1="183.72" y1="759" x2="183.72" y2="754.7" stroke="#000" stroke-width="1.1"/>
<line x1="183.72" y1="467" x2="183.72" y2="471.3" stroke="#000" stroke-width="1.1"/>
<line x1="203.35" y1="759" x2="203.35" y2="754.7" stroke="#000" stroke-width="1.1"/>
<line x1="203.35" y1="467" x2="203.35" y2="471.3" stroke="#000" stroke-width="1.1"/>
<line x1="222.97" y1="759" x2="222.97" y2="754.7" stroke="#000" stroke-width="1.1"/>
<line x1="222.97" y1="467" x2="222.97" y2="471.3" stroke="#000" stroke-width="1.1"/>
<line x1="242.6" y1="759" x2="242.6" y2="751" stroke="#000" stroke-width="1.1"/>
<line x1="242.6" y1="467" x2="242.6" y2="475" stroke="#000" stroke-width="1.1"/>
<line x1="262.23" y1="759" x2="262.23" y2="754.7" stroke="#000" stroke-width="1.1"/>
<line x1="262.23" y1="467" x2="262.23" y2="471.3" stroke="#000" stroke-width="1.1"/>
<line x1="281.85" y1="759" x2="281.85" y2="754.7" stroke="#000" stroke-width="1.1"/>
<line x1="281.85" y1="467" x2="281.85" y2="471.3" stroke="#000" stroke-width="1.1"/>
<line x1="301.48" y1="759" x2="301.48" y2="754.7" stroke="#000" stroke-width="1.1"/>
<line x1="301.48" y1="467" x2="301.48" y2="471.3" stroke="#000" stroke-width="1.1"/>
<line x1="321.1" y1="759" x2="321.1" y2="751" stroke="#000" stroke-width="1.1"/>
<line x1="321.1" y1="467" x2="321.1" y2="475" stroke="#000" stroke-width="1.1"/>
<line x1="340.73" y1="759" x2="340.73" y2="754.7" stroke="#000" stroke-width="1.1"/>
<line x1="340.73" y1="467" x2="340.73" y2="471.3" stroke="#000" stroke-width="1.1"/>
<line x1="360.35" y1="759" x2="360.35" y2="754.7" stroke="#000" stroke-width="1.1"/>
<line x1="360.35" y1="467" x2="360.35" y2="471.3" stroke="#000" stroke-width="1.1"/>
<line x1="379.98" y1="759" x2="379.98" y2="754.7" stroke="#000" stroke-width="1.1"/>
<line x1="379.98" y1="467" x2="379.98" y2="471.3" stroke="#000" stroke-width="1.1"/>
<line x1="399.6" y1="759" x2="399.6" y2="754.7" stroke="#000" stroke-width="1.1"/>
<line x1="399.6" y1="467" x2="399.6" y2="471.3" stroke="#000" stroke-width="1.1"/>
<line x1="105" y1="749.46" x2="109.3" y2="749.46" stroke="#000" stroke-width="1.1"/>
<line x1="399.6" y1="749.46" x2="395.3" y2="749.46" stroke="#000" stroke-width="1.1"/>
<line x1="105" y1="730.6" x2="109.3" y2="730.6" stroke="#000" stroke-width="1.1"/>
<line x1="399.6" y1="730.6" x2="395.3" y2="730.6" stroke="#000" stroke-width="1.1"/>
<line x1="105" y1="711.74" x2="113" y2="711.74" stroke="#000" stroke-width="1.1"/>
<line x1="399.6" y1="711.74" x2="391.6" y2="711.74" stroke="#000" stroke-width="1.1"/>
<line x1="105" y1="692.88" x2="109.3" y2="692.88" stroke="#000" stroke-width="1.1"/>
<line x1="399.6" y1="692.88" x2="395.3" y2="692.88" stroke="#000" stroke-width="1.1"/>
<line x1="105" y1="674.02" x2="109.3" y2="674.02" stroke="#000" stroke-width="1.1"/>
<line x1="399.6" y1="674.02" x2="395.3" y2="674.02" stroke="#000" stroke-width="1.1"/>
<line x1="105" y1="655.16" x2="109.3" y2="655.16" stroke="#000" stroke-width="1.1"/>
<line x1="399.6" y1="655.16" x2="395.3" y2="655.16" stroke="#000" stroke-width="1.1"/>
<line x1="105" y1="636.3" x2="113" y2="636.3" stroke="#000" stroke-width="1.1"/>
<line x1="399.6" y1="636.3" x2="391.6" y2="636.3" stroke="#000" stroke-width="1.1"/>
<line x1="105" y1="617.44" x2="109.3" y2="617.44" stroke="#000" stroke-width="1.1"/>
<line x1="399.6" y1="617.44" x2="395.3" y2="617.44" stroke="#000" stroke-width="1.1"/>
<line x1="105" y1="598.58" x2="109.3" y2="598.58" stroke="#000" stroke-width="1.1"/>
<line x1="399.6" y1="598.58" x2="395.3" y2="598.58" stroke="#000" stroke-width="1.1"/>
<line x1="105" y1="579.72" x2="109.3" y2="579.72" stroke="#000" stroke-width="1.1"/>
<line x1="399.6" y1="579.72" x2="395.3" y2="579.72" stroke="#000" stroke-width="1.1"/>
<line x1="105" y1="560.86" x2="113" y2="560.86" stroke="#000" stroke-width="1.1"/>
<line x1="399.6" y1="560.86" x2="391.6" y2="560.86" stroke="#000" stroke-width="1.1"/>
<line x1="105" y1="542" x2="109.3" y2="542" stroke="#000" stroke-width="1.1"/>
<line x1="399.6" y1="542" x2="395.3" y2="542" stroke="#000" stroke-width="1.1"/>
<line x1="105" y1="523.14" x2="109.3" y2="523.14" stroke="#000" stroke-width="1.1"/>
<line x1="399.6" y1="523.14" x2="395.3" y2="523.14" stroke="#000" stroke-width="1.1"/>
<line x1="105" y1="504.28" x2="109.3" y2="504.28" stroke="#000" stroke-width="1.1"/>
<line x1="399.6" y1="504.28" x2="395.3" y2="504.28" stroke="#000" stroke-width="1.1"/>
<line x1="105" y1="485.42" x2="109.3" y2="485.42" stroke="#000" stroke-width="1.1"/>
<line x1="399.6" y1="485.42" x2="395.3" y2="485.42" stroke="#000" stroke-width="1.1"/>
<line x1="105" y1="466.56" x2="109.3" y2="466.56" stroke="#000" stroke-width="1.1"/>
<line x1="399.6" y1="466.56" x2="395.3" y2="466.56" stroke="#000" stroke-width="1.1"/>
<line x1="409.35" y1="759" x2="409.35" y2="754.7" stroke="#000" stroke-width="1.1"/>
<line x1="428.37" y1="759" x2="428.37" y2="754.7" stroke="#000" stroke-width="1.1"/>
<line x1="447.4" y1="759" x2="447.4" y2="751" stroke="#000" stroke-width="1.1"/>
<line x1="466.42" y1="759" x2="466.42" y2="754.7" stroke="#000" stroke-width="1.1"/>
<line x1="485.45" y1="759" x2="485.45" y2="754.7" stroke="#000" stroke-width="1.1"/>
<line x1="504.47" y1="759" x2="504.47" y2="754.7" stroke="#000" stroke-width="1.1"/>
<line x1="523.5" y1="759" x2="523.5" y2="751" stroke="#000" stroke-width="1.1"/>
<line x1="542.52" y1="759" x2="542.52" y2="754.7" stroke="#000" stroke-width="1.1"/>
<line x1="561.55" y1="759" x2="561.55" y2="754.7" stroke="#000" stroke-width="1.1"/>
<line x1="580.58" y1="759" x2="580.58" y2="754.7" stroke="#000" stroke-width="1.1"/>
<line x1="599.6" y1="759" x2="599.6" y2="751" stroke="#000" stroke-width="1.1"/>
<line x1="618.62" y1="759" x2="618.62" y2="754.7" stroke="#000" stroke-width="1.1"/>
<line x1="637.65" y1="759" x2="637.65" y2="754.7" stroke="#000" stroke-width="1.1"/>
<line x1="656.67" y1="759" x2="656.67" y2="754.7" stroke="#000" stroke-width="1.1"/>
<line x1="675.7" y1="759" x2="675.7" y2="754.7" stroke="#000" stroke-width="1.1"/>
<line x1="694.73" y1="759" x2="694.73" y2="754.7" stroke="#000" stroke-width="1.1"/>
<line x1="105.22" y1="1050.5" x2="105.22" y2="1046.2" stroke="#000" stroke-width="1.1"/>
<line x1="105.22" y1="759" x2="105.22" y2="763.3" stroke="#000" stroke-width="1.1"/>
<line x1="124.85" y1="1050.5" x2="124.85" y2="1046.2" stroke="#000" stroke-width="1.1"/>
<line x1="124.85" y1="759" x2="124.85" y2="763.3" stroke="#000" stroke-width="1.1"/>
<line x1="144.47" y1="1050.5" x2="144.47" y2="1046.2" stroke="#000" stroke-width="1.1"/>
<line x1="144.47" y1="759" x2="144.47" y2="763.3" stroke="#000" stroke-width="1.1"/>
<line x1="164.1" y1="1050.5" x2="164.1" y2="1042.5" stroke="#000" stroke-width="1.1"/>
<line x1="164.1" y1="759" x2="164.1" y2="767" stroke="#000" stroke-width="1.1"/>
<line x1="183.72" y1="1050.5" x2="183.72" y2="1046.2" stroke="#000" stroke-width="1.1"/>
<line x1="183.72" y1="759" x2="183.72" y2="763.3" stroke="#000" stroke-width="1.1"/>
<line x1="203.35" y1="1050.5" x2="203.35" y2="1046.2" stroke="#000" stroke-width="1.1"/>
<line x1="203.35" y1="759" x2="203.35" y2="763.3" stroke="#000" stroke-width="1.1"/>
<line x1="222.97" y1="1050.5" x2="222.97" y2="1046.2" stroke="#000" stroke-width="1.1"/>
<line x1="222.97" y1="759" x2="222.97" y2="763.3" stroke="#000" stroke-width="1.1"/>
<line x1="242.6" y1="1050.5" x2="242.6" y2="1042.5" stroke="#000" stroke-width="1.1"/>
<line x1="242.6" y1="759" x2="242.6" y2="767" stroke="#000" stroke-width="1.1"/>
<line x1="262.23" y1="1050.5" x2="262.23" y2="1046.2" stroke="#000" stroke-width="1.1"/>
<line x1="262.23" y1="759" x2="262.23" y2="763.3" stroke="#000" stroke-width="1.1"/>
<line x1="281.85" y1="1050.5" x2="281.85" y2="1046.2" stroke="#000" stroke-width="1.1"/>
<line x1="281.85" y1="759" x2="281.85" y2="763.3" stroke="#000" stroke-width="1.1"/>
<line x1="301.48" y1="1050.5" x2="301.48" y2="1046.2" stroke="#000" stroke-width="1.1"/>
<line x1="301.48" y1="759" x2="301.48" y2="763.3" stroke="#000" stroke-width="1.1"/>
<line x1="321.1" y1="1050.5" x2="321.1" y2="1042.5" stroke="#000" stroke-width="1.1"/>
<line x1="321.1" y1="759" x2="321.1" y2="767" stroke="#000" stroke-width="1.1"/>
<line x1="340.73" y1="1050.5" x2="340.73" y2="1046.2" stroke="#000" stroke-width="1.1"/>
<line x1="340.73" y1="759" x2="340.73" y2="763.3" stroke="#000" stroke-width="1.1"/>
<line x1="360.35" y1="1050.5" x2="360.35" y2="1046.2" stroke="#000" stroke-width="1.1"/>
<line x1="360.35" y1="759" x2="360.35" y2="763.3" stroke="#000" stroke-width="1.1"/>
<line x1="379.98" y1="1050.5" x2="379.98" y2="1046.2" stroke="#000" stroke-width="1.1"/>
<line x1="379.98" y1="759" x2="379.98" y2="763.3" stroke="#000" stroke-width="1.1"/>
<line x1="399.6" y1="1050.5" x2="399.6" y2="1046.2" stroke="#000" stroke-width="1.1"/>
<line x1="399.6" y1="759" x2="399.6" y2="763.3" stroke="#000" stroke-width="1.1"/>
<line x1="105" y1="1031.86" x2="109.3" y2="1031.86" stroke="#000" stroke-width="1.1"/>
<line x1="399.6" y1="1031.86" x2="395.3" y2="1031.86" stroke="#000" stroke-width="1.1"/>
<line x1="105" y1="1011.81" x2="109.3" y2="1011.81" stroke="#000" stroke-width="1.1"/>
<line x1="399.6" y1="1011.81" x2="395.3" y2="1011.81" stroke="#000" stroke-width="1.1"/>
<line x1="105" y1="991.76" x2="109.3" y2="991.76" stroke="#000" stroke-width="1.1"/>
<line x1="399.6" y1="991.76" x2="395.3" y2="991.76" stroke="#000" stroke-width="1.1"/>
<line x1="105" y1="971.71" x2="113" y2="971.71" stroke="#000" stroke-width="1.1"/>
<line x1="399.6" y1="971.71" x2="391.6" y2="971.71" stroke="#000" stroke-width="1.1"/>
<line x1="105" y1="951.65" x2="109.3" y2="951.65" stroke="#000" stroke-width="1.1"/>
<line x1="399.6" y1="951.65" x2="395.3" y2="951.65" stroke="#000" stroke-width="1.1"/>
<line x1="105" y1="931.6" x2="109.3" y2="931.6" stroke="#000" stroke-width="1.1"/>
<line x1="399.6" y1="931.6" x2="395.3" y2="931.6" stroke="#000" stroke-width="1.1"/>
<line x1="105" y1="911.55" x2="109.3" y2="911.55" stroke="#000" stroke-width="1.1"/>
<line x1="399.6" y1="911.55" x2="395.3" y2="911.55" stroke="#000" stroke-width="1.1"/>
<line x1="105" y1="891.5" x2="113" y2="891.5" stroke="#000" stroke-width="1.1"/>
<line x1="399.6" y1="891.5" x2="391.6" y2="891.5" stroke="#000" stroke-width="1.1"/>
<line x1="105" y1="871.45" x2="109.3" y2="871.45" stroke="#000" stroke-width="1.1"/>
<line x1="399.6" y1="871.45" x2="395.3" y2="871.45" stroke="#000" stroke-width="1.1"/>
<line x1="105" y1="851.4" x2="109.3" y2="851.4" stroke="#000" stroke-width="1.1"/>
<line x1="399.6" y1="851.4" x2="395.3" y2="851.4" stroke="#000" stroke-width="1.1"/>
<line x1="105" y1="831.35" x2="109.3" y2="831.35" stroke="#000" stroke-width="1.1"/>
<line x1="399.6" y1="831.35" x2="395.3" y2="831.35" stroke="#000" stroke-width="1.1"/>
<line x1="105" y1="811.3" x2="113" y2="811.3" stroke="#000" stroke-width="1.1"/>
<line x1="399.6" y1="811.3" x2="391.6" y2="811.3" stroke="#000" stroke-width="1.1"/>
<line x1="105" y1="791.24" x2="109.3" y2="791.24" stroke="#000" stroke-width="1.1"/>
<line x1="399.6" y1="791.24" x2="395.3" y2="791.24" stroke="#000" stroke-width="1.1"/>
<line x1="105" y1="771.19" x2="109.3" y2="771.19" stroke="#000" stroke-width="1.1"/>
<line x1="399.6" y1="771.19" x2="395.3" y2="771.19" stroke="#000" stroke-width="1.1"/>
<line x1="409.35" y1="1050.5" x2="409.35" y2="1046.2" stroke="#000" stroke-width="1.1"/>
<line x1="409.35" y1="759" x2="409.35" y2="763.3" stroke="#000" stroke-width="1.1"/>
<line x1="428.37" y1="1050.5" x2="428.37" y2="1046.2" stroke="#000" stroke-width="1.1"/>
<line x1="428.37" y1="759" x2="428.37" y2="763.3" stroke="#000" stroke-width="1.1"/>
<line x1="447.4" y1="1050.5" x2="447.4" y2="1042.5" stroke="#000" stroke-width="1.1"/>
<line x1="447.4" y1="759" x2="447.4" y2="767" stroke="#000" stroke-width="1.1"/>
<line x1="466.42" y1="1050.5" x2="466.42" y2="1046.2" stroke="#000" stroke-width="1.1"/>
<line x1="466.42" y1="759" x2="466.42" y2="763.3" stroke="#000" stroke-width="1.1"/>
<line x1="485.45" y1="1050.5" x2="485.45" y2="1046.2" stroke="#000" stroke-width="1.1"/>
<line x1="485.45" y1="759" x2="485.45" y2="763.3" stroke="#000" stroke-width="1.1"/>
<line x1="504.47" y1="1050.5" x2="504.47" y2="1046.2" stroke="#000" stroke-width="1.1"/>
<line x1="504.47" y1="759" x2="504.47" y2="763.3" stroke="#000" stroke-width="1.1"/>
<line x1="523.5" y1="1050.5" x2="523.5" y2="1042.5" stroke="#000" stroke-width="1.1"/>
<line x1="523.5" y1="759" x2="523.5" y2="767" stroke="#000" stroke-width="1.1"/>
<line x1="542.52" y1="1050.5" x2="542.52" y2="1046.2" stroke="#000" stroke-width="1.1"/>
<line x1="542.52" y1="759" x2="542.52" y2="763.3" stroke="#000" stroke-width="1.1"/>
<line x1="561.55" y1="1050.5" x2="561.55" y2="1046.2" stroke="#000" stroke-width="1.1"/>
<line x1="561.55" y1="759" x2="561.55" y2="763.3" stroke="#000" stroke-width="1.1"/>
<line x1="580.58" y1="1050.5" x2="580.58" y2="1046.2" stroke="#000" stroke-width="1.1"/>
<line x1="580.58" y1="759" x2="580.58" y2="763.3" stroke="#000" stroke-width="1.1"/>
<line x1="599.6" y1="1050.5" x2="599.6" y2="1042.5" stroke="#000" stroke-width="1.1"/>
<line x1="599.6" y1="759" x2="599.6" y2="767" stroke="#000" stroke-width="1.1"/>
<line x1="618.62" y1="1050.5" x2="618.62" y2="1046.2" stroke="#000" stroke-width="1.1"/>
<line x1="618.62" y1="759" x2="618.62" y2="763.3" stroke="#000" stroke-width="1.1"/>
<line x1="637.65" y1="1050.5" x2="637.65" y2="1046.2" stroke="#000" stroke-width="1.1"/>
<line x1="637.65" y1="759" x2="637.65" y2="763.3" stroke="#000" stroke-width="1.1"/>
<line x1="656.67" y1="1050.5" x2="656.67" y2="1046.2" stroke="#000" stroke-width="1.1"/>
<line x1="656.67" y1="759" x2="656.67" y2="763.3" stroke="#000" stroke-width="1.1"/>
<line x1="675.7" y1="1050.5" x2="675.7" y2="1046.2" stroke="#000" stroke-width="1.1"/>
<line x1="675.7" y1="759" x2="675.7" y2="763.3" stroke="#000" stroke-width="1.1"/>
<line x1="694.73" y1="1050.5" x2="694.73" y2="1046.2" stroke="#000" stroke-width="1.1"/>
<line x1="694.73" y1="759" x2="694.73" y2="763.3" stroke="#000" stroke-width="1.1"/>
<line x1="399.6" y1="1031.86" x2="403.9" y2="1031.86" stroke="#000" stroke-width="1.1"/>
<line x1="694.4" y1="1031.86" x2="690.1" y2="1031.86" stroke="#000" stroke-width="1.1"/>
<line x1="399.6" y1="1011.81" x2="403.9" y2="1011.81" stroke="#000" stroke-width="1.1"/>
<line x1="694.4" y1="1011.81" x2="690.1" y2="1011.81" stroke="#000" stroke-width="1.1"/>
<line x1="399.6" y1="991.76" x2="403.9" y2="991.76" stroke="#000" stroke-width="1.1"/>
<line x1="694.4" y1="991.76" x2="690.1" y2="991.76" stroke="#000" stroke-width="1.1"/>
<line x1="399.6" y1="971.71" x2="407.6" y2="971.71" stroke="#000" stroke-width="1.1"/>
<line x1="694.4" y1="971.71" x2="686.4" y2="971.71" stroke="#000" stroke-width="1.1"/>
<line x1="399.6" y1="951.65" x2="403.9" y2="951.65" stroke="#000" stroke-width="1.1"/>
<line x1="694.4" y1="951.65" x2="690.1" y2="951.65" stroke="#000" stroke-width="1.1"/>
<line x1="399.6" y1="931.6" x2="403.9" y2="931.6" stroke="#000" stroke-width="1.1"/>
<line x1="694.4" y1="931.6" x2="690.1" y2="931.6" stroke="#000" stroke-width="1.1"/>
<line x1="399.6" y1="911.55" x2="403.9" y2="911.55" stroke="#000" stroke-width="1.1"/>
<line x1="694.4" y1="911.55" x2="690.1" y2="911.55" stroke="#000" stroke-width="1.1"/>
<line x1="399.6" y1="891.5" x2="407.6" y2="891.5" stroke="#000" stroke-width="1.1"/>
<line x1="694.4" y1="891.5" x2="686.4" y2="891.5" stroke="#000" stroke-width="1.1"/>
<line x1="399.6" y1="871.45" x2="403.9" y2="871.45" stroke="#000" stroke-width="1.1"/>
<line x1="694.4" y1="871.45" x2="690.1" y2="871.45" stroke="#000" stroke-width="1.1"/>
<line x1="399.6" y1="851.4" x2="403.9" y2="851.4" stroke="#000" stroke-width="1.1"/>
<line x1="694.4" y1="851.4" x2="690.1" y2="851.4" stroke="#000" stroke-width="1.1"/>
<line x1="399.6" y1="831.35" x2="403.9" y2="831.35" stroke="#000" stroke-width="1.1"/>
<line x1="694.4" y1="831.35" x2="690.1" y2="831.35" stroke="#000" stroke-width="1.1"/>
<line x1="399.6" y1="811.3" x2="407.6" y2="811.3" stroke="#000" stroke-width="1.1"/>
<line x1="694.4" y1="811.3" x2="686.4" y2="811.3" stroke="#000" stroke-width="1.1"/>
<line x1="399.6" y1="791.24" x2="403.9" y2="791.24" stroke="#000" stroke-width="1.1"/>
<line x1="694.4" y1="791.24" x2="690.1" y2="791.24" stroke="#000" stroke-width="1.1"/>
<line x1="399.6" y1="771.19" x2="403.9" y2="771.19" stroke="#000" stroke-width="1.1"/>
<line x1="694.4" y1="771.19" x2="690.1" y2="771.19" stroke="#000" stroke-width="1.1"/>
<line x1="693.9" y1="1050.5" x2="693.9" y2="1046.2" stroke="#000" stroke-width="1.1"/>
<line x1="714.1" y1="1050.5" x2="714.1" y2="1046.2" stroke="#000" stroke-width="1.1"/>
<line x1="734.3" y1="1050.5" x2="734.3" y2="1046.2" stroke="#000" stroke-width="1.1"/>
<line x1="754.5" y1="1050.5" x2="754.5" y2="1046.2" stroke="#000" stroke-width="1.1"/>
<line x1="774.7" y1="1050.5" x2="774.7" y2="1042.5" stroke="#000" stroke-width="1.1"/>
<line x1="794.9" y1="1050.5" x2="794.9" y2="1046.2" stroke="#000" stroke-width="1.1"/>
<line x1="815.1" y1="1050.5" x2="815.1" y2="1046.2" stroke="#000" stroke-width="1.1"/>
<line x1="835.3" y1="1050.5" x2="835.3" y2="1046.2" stroke="#000" stroke-width="1.1"/>
<line x1="855.51" y1="1050.5" x2="855.51" y2="1042.5" stroke="#000" stroke-width="1.1"/>
<line x1="875.71" y1="1050.5" x2="875.71" y2="1046.2" stroke="#000" stroke-width="1.1"/>
<line x1="895.91" y1="1050.5" x2="895.91" y2="1046.2" stroke="#000" stroke-width="1.1"/>
<line x1="916.11" y1="1050.5" x2="916.11" y2="1046.2" stroke="#000" stroke-width="1.1"/>
<line x1="936.31" y1="1050.5" x2="936.31" y2="1042.5" stroke="#000" stroke-width="1.1"/>
<line x1="956.51" y1="1050.5" x2="956.51" y2="1046.2" stroke="#000" stroke-width="1.1"/>
<line x1="976.71" y1="1050.5" x2="976.71" y2="1046.2" stroke="#000" stroke-width="1.1"/>
<text x="203.85" y="19.8" font-size="28" fill="#000" stroke="#000" stroke-width="0.25" textLength="17.17" lengthAdjust="spacingAndGlyphs" style="font-style:italic">R</text>
<text x="221.58" y="23" font-size="19.04" fill="#000" stroke="#000" stroke-width="0.25" textLength="18.04" lengthAdjust="spacingAndGlyphs" style="">eq</text>
<text x="248.05" y="19.8" font-size="28" fill="#000" stroke="#000" stroke-width="0.25" textLength="54.63" lengthAdjust="spacingAndGlyphs" style="">[km]</text>
<text x="512.53" y="312.7" font-size="28" fill="#000" stroke="#000" stroke-width="0.25" textLength="23.78" lengthAdjust="spacingAndGlyphs" style="font-style:italic">M</text>
<text x="536.89" y="312.7" font-size="28" fill="#000" stroke="#000" stroke-width="0.25" textLength="7.93" lengthAdjust="spacingAndGlyphs" style="">/</text>
<text x="544.82" y="312.7" font-size="28" fill="#000" stroke="#000" stroke-width="0.25" textLength="17.44" lengthAdjust="spacingAndGlyphs" style="font-style:italic">R</text>
<text x="562.83" y="315.7" font-size="19.04" fill="#000" stroke="#000" stroke-width="0.25" textLength="18.32" lengthAdjust="spacingAndGlyphs" style="">eq</text>
<text x="799.13" y="604.8" font-size="28" fill="#000" stroke="#000" stroke-width="0.25" textLength="23.81" lengthAdjust="spacingAndGlyphs" style="font-style:italic">M</text>
<text x="828.66" y="604.8" font-size="28" fill="#000" stroke="#000" stroke-width="0.25" textLength="9.52" lengthAdjust="spacingAndGlyphs" style="">[</text>
<text x="838.18" y="604.8" font-size="28" fill="#000" stroke="#000" stroke-width="0.25" textLength="23.81" lengthAdjust="spacingAndGlyphs" style="font-style:italic">M</text>
<circle cx="870.33" cy="603.15" r="6.47" fill="none" stroke="#000" stroke-width="1.43"/>
<circle cx="870.33" cy="603.15" r="1.71" fill="#000"/>
<text x="878.1" y="604.8" font-size="28" fill="#000" stroke="#000" stroke-width="0.25" textLength="9.52" lengthAdjust="spacingAndGlyphs" style="">]</text>
<text x="202.36" y="1136.9" font-size="28" fill="#000" stroke="#000" stroke-width="0.25" textLength="17.7" lengthAdjust="spacingAndGlyphs" style="font-style:italic">R</text>
<text x="220.63" y="1140.1" font-size="19.04" fill="#000" stroke="#000" stroke-width="0.25" textLength="18.6" lengthAdjust="spacingAndGlyphs" style="">eq</text>
<text x="247.93" y="1136.9" font-size="28" fill="#000" stroke="#000" stroke-width="0.25" textLength="56.33" lengthAdjust="spacingAndGlyphs" style="">[km]</text>
<text x="511.84" y="1156.6" font-size="28" fill="#000" stroke="#000" stroke-width="0.25" textLength="24.51" lengthAdjust="spacingAndGlyphs" style="font-style:italic">M</text>
<text x="536.94" y="1156.6" font-size="28" fill="#000" stroke="#000" stroke-width="0.25" textLength="8.17" lengthAdjust="spacingAndGlyphs" style="">/</text>
<text x="545.12" y="1156.6" font-size="28" fill="#000" stroke="#000" stroke-width="0.25" textLength="17.97" lengthAdjust="spacingAndGlyphs" style="font-style:italic">R</text>
<text x="563.68" y="1159.6" font-size="19.04" fill="#000" stroke="#000" stroke-width="0.25" textLength="18.88" lengthAdjust="spacingAndGlyphs" style="">eq</text>
<text x="798.14" y="1157" font-size="28" fill="#000" stroke="#000" stroke-width="0.25" textLength="24.52" lengthAdjust="spacingAndGlyphs" style="font-style:italic">M</text>
<text x="828.55" y="1157" font-size="28" fill="#000" stroke="#000" stroke-width="0.25" textLength="9.8" lengthAdjust="spacingAndGlyphs" style="">[</text>
<text x="838.36" y="1157" font-size="28" fill="#000" stroke="#000" stroke-width="0.25" textLength="24.52" lengthAdjust="spacingAndGlyphs" style="font-style:italic">M</text>
<circle cx="871.47" cy="1155.35" r="6.47" fill="none" stroke="#000" stroke-width="1.43"/>
<circle cx="871.47" cy="1155.35" r="1.71" fill="#000"/>
<text x="879.48" y="1157" font-size="28" fill="#000" stroke="#000" stroke-width="0.25" textLength="9.8" lengthAdjust="spacingAndGlyphs" style="">]</text>
<g transform="rotate(-90 20.7 649.5)">
<text x="21.05" y="649.5" font-size="28" fill="#000" stroke="#000" stroke-width="0.25" textLength="25.03" lengthAdjust="spacingAndGlyphs" style="font-style:italic">M</text>
<text x="46.68" y="649.5" font-size="28" fill="#000" stroke="#000" stroke-width="0.25" textLength="8.35" lengthAdjust="spacingAndGlyphs" style="">/</text>
<text x="55.03" y="649.5" font-size="28" fill="#000" stroke="#000" stroke-width="0.25" textLength="18.35" lengthAdjust="spacingAndGlyphs" style="font-style:italic">R</text>
<text x="73.98" y="652.5" font-size="19.04" fill="#000" stroke="#000" stroke-width="0.25" textLength="19.28" lengthAdjust="spacingAndGlyphs" style="">eq</text>
</g>
<g transform="rotate(-90 23.1 951.4)">
<text x="23.45" y="951.4" font-size="28" fill="#000" stroke="#000" stroke-width="0.25" textLength="25.13" lengthAdjust="spacingAndGlyphs" style="font-style:italic">M</text>
<text x="54.61" y="951.4" font-size="28" fill="#000" stroke="#000" stroke-width="0.25" textLength="10.04" lengthAdjust="spacingAndGlyphs" style="">[</text>
<text x="64.66" y="951.4" font-size="28" fill="#000" stroke="#000" stroke-width="0.25" textLength="25.13" lengthAdjust="spacingAndGlyphs" style="font-style:italic">M</text>
<circle cx="98.59" cy="949.75" r="6.47" fill="none" stroke="#000" stroke-width="1.43"/>
<circle cx="98.59" cy="949.75" r="1.71" fill="#000"/>
<text x="106.79" y="951.4" font-size="28" fill="#000" stroke="#000" stroke-width="0.25" textLength="10.04" lengthAdjust="spacingAndGlyphs" style="">]</text>
</g>
<text x="155.04" y="54.9" font-size="30.5" fill="#ff1493" stroke="#ff1493" stroke-width="0.08" textLength="33.12" lengthAdjust="spacingAndGlyphs" style="">CI</text>
<text x="188.36" y="58.5" font-size="21" fill="#ff1493" stroke="#ff1493" stroke-width="0.08" textLength="35.7" lengthAdjust="spacingAndGlyphs" style="">68%</text>
<text x="229.27" y="57.7" font-size="28.7" fill="#ff1493" stroke="#ff1493" stroke-width="0.08" textLength="20.72" lengthAdjust="spacingAndGlyphs" style="">=</text>
<text x="254.36" y="54.9" font-size="28.7" fill="#ff1493" stroke="#ff1493" stroke-width="0.08" textLength="65.04" lengthAdjust="spacingAndGlyphs" style="">12.10</text>
<text x="319.18" y="43.7" font-size="21" fill="#ff1493" stroke="#ff1493" stroke-width="0.08" textLength="47.35" lengthAdjust="spacingAndGlyphs" style="">+1.11</text>
<text x="319.17" y="62.5" font-size="21" fill="#ff1493" stroke="#ff1493" stroke-width="0.08" textLength="47.96" lengthAdjust="spacingAndGlyphs" style="">−0.84</text>
<text x="155.04" y="89.7" font-size="30.5" fill="#ff8c00" stroke="#ff8c00" stroke-width="0.08" textLength="33.12" lengthAdjust="spacingAndGlyphs" style="">CI</text>
<text x="188.36" y="93.3" font-size="21" fill="#ff8c00" stroke="#ff8c00" stroke-width="0.08" textLength="35.7" lengthAdjust="spacingAndGlyphs" style="">68%</text>
<text x="229.27" y="92.5" font-size="28.7" fill="#ff8c00" stroke="#ff8c00" stroke-width="0.08" textLength="20.72" lengthAdjust="spacingAndGlyphs" style="">=</text>
<text x="254.34" y="89.7" font-size="28.7" fill="#ff8c00" stroke="#ff8c00" stroke-width="0.08" textLength="65.57" lengthAdjust="spacingAndGlyphs" style="">12.32</text>
<text x="319.18" y="78.5" font-size="21" fill="#ff8c00" stroke="#ff8c00" stroke-width="0.08" textLength="47.35" lengthAdjust="spacingAndGlyphs" style="">+1.01</text>
<text x="319.16" y="97.3" font-size="21" fill="#ff8c00" stroke="#ff8c00" stroke-width="0.08" textLength="48.24" lengthAdjust="spacingAndGlyphs" style="">−0.77</text>
<text x="155.04" y="124.5" font-size="30.5" fill="#000080" stroke="#000080" stroke-width="0.08" textLength="33.12" lengthAdjust="spacingAndGlyphs" style="">CI</text>
<text x="188.36" y="128.1" font-size="21" fill="#000080" stroke="#000080" stroke-width="0.08" textLength="35.7" lengthAdjust="spacingAndGlyphs" style="">68%</text>
<text x="229.27" y="127.3" font-size="28.7" fill="#000080" stroke="#000080" stroke-width="0.08" textLength="20.72" lengthAdjust="spacingAndGlyphs" style="">=</text>
<text x="254.36" y="124.5" font-size="28.7" fill="#000080" stroke="#000080" stroke-width="0.08" textLength="65.07" lengthAdjust="spacingAndGlyphs" style="">12.33</text>
<text x="319.19" y="113.3" font-size="21" fill="#000080" stroke="#000080" stroke-width="0.08" textLength="46.9" lengthAdjust="spacingAndGlyphs" style="">+1.03</text>
<text x="319.16" y="132.1" font-size="21" fill="#000080" stroke="#000080" stroke-width="0.08" textLength="48.44" lengthAdjust="spacingAndGlyphs" style="">−0.78</text>
<text x="155.04" y="159.3" font-size="30.5" fill="#8b0000" stroke="#8b0000" stroke-width="0.08" textLength="33.12" lengthAdjust="spacingAndGlyphs" style="">CI</text>
<text x="188.36" y="162.9" font-size="21" fill="#8b0000" stroke="#8b0000" stroke-width="0.08" textLength="35.7" lengthAdjust="spacingAndGlyphs" style="">68%</text>
<text x="229.27" y="162.1" font-size="28.7" fill="#8b0000" stroke="#8b0000" stroke-width="0.08" textLength="20.72" lengthAdjust="spacingAndGlyphs" style="">=</text>
<text x="254.36" y="159.3" font-size="28.7" fill="#8b0000" stroke="#8b0000" stroke-width="0.08" textLength="65.04" lengthAdjust="spacingAndGlyphs" style="">12.38</text>
<text x="319.19" y="148.1" font-size="21" fill="#8b0000" stroke="#8b0000" stroke-width="0.08" textLength="46.9" lengthAdjust="spacingAndGlyphs" style="">+1.03</text>
<text x="319.16" y="166.9" font-size="21" fill="#8b0000" stroke="#8b0000" stroke-width="0.08" textLength="48.44" lengthAdjust="spacingAndGlyphs" style="">−0.78</text>
<text x="445.34" y="346.5" font-size="30.5" fill="#ff1493" stroke="#ff1493" stroke-width="0.08" textLength="33.12" lengthAdjust="spacingAndGlyphs" style="">CI</text>
<text x="478.66" y="350.1" font-size="21" fill="#ff1493" stroke="#ff1493" stroke-width="0.08" textLength="35.7" lengthAdjust="spacingAndGlyphs" style="">68%</text>
<text x="519.57" y="349.3" font-size="28.7" fill="#ff1493" stroke="#ff1493" stroke-width="0.08" textLength="20.72" lengthAdjust="spacingAndGlyphs" style="">=</text>
<text x="542.91" y="346.5" font-size="28.7" fill="#ff1493" stroke="#ff1493" stroke-width="0.08" textLength="64.3" lengthAdjust="spacingAndGlyphs" style="">0.253</text>
<text x="608.66" y="335.3" font-size="21" fill="#ff1493" stroke="#ff1493" stroke-width="0.08" textLength="58.63" lengthAdjust="spacingAndGlyphs" style="">+0.018</text>
<text x="608.63" y="354.1" font-size="21" fill="#ff1493" stroke="#ff1493" stroke-width="0.08" textLength="60.67" lengthAdjust="spacingAndGlyphs" style="">−0.021</text>
<text x="445.34" y="381.4" font-size="30.5" fill="#ff8c00" stroke="#ff8c00" stroke-width="0.08" textLength="33.12" lengthAdjust="spacingAndGlyphs" style="">CI</text>
<text x="478.66" y="385" font-size="21" fill="#ff8c00" stroke="#ff8c00" stroke-width="0.08" textLength="35.7" lengthAdjust="spacingAndGlyphs" style="">68%</text>
<text x="519.57" y="384.2" font-size="28.7" fill="#ff8c00" stroke="#ff8c00" stroke-width="0.08" textLength="20.72" lengthAdjust="spacingAndGlyphs" style="">=</text>
<text x="542.91" y="381.4" font-size="28.7" fill="#ff8c00" stroke="#ff8c00" stroke-width="0.08" textLength="64.36" lengthAdjust="spacingAndGlyphs" style="">0.249</text>
<text x="608.66" y="370.2" font-size="21" fill="#ff8c00" stroke="#ff8c00" stroke-width="0.08" textLength="58.65" lengthAdjust="spacingAndGlyphs" style="">+0.015</text>
<text x="608.63" y="389" font-size="21" fill="#ff8c00" stroke="#ff8c00" stroke-width="0.08" textLength="60.18" lengthAdjust="spacingAndGlyphs" style="">−0.018</text>
<text x="445.34" y="416.3" font-size="30.5" fill="#000080" stroke="#000080" stroke-width="0.08" textLength="33.12" lengthAdjust="spacingAndGlyphs" style="">CI</text>
<text x="478.66" y="419.9" font-size="21" fill="#000080" stroke="#000080" stroke-width="0.08" textLength="35.7" lengthAdjust="spacingAndGlyphs" style="">68%</text>
<text x="519.57" y="419.1" font-size="28.7" fill="#000080" stroke="#000080" stroke-width="0.08" textLength="20.72" lengthAdjust="spacingAndGlyphs" style="">=</text>
<text x="542.91" y="416.3" font-size="28.7" fill="#000080" stroke="#000080" stroke-width="0.08" textLength="64.28" lengthAdjust="spacingAndGlyphs" style="">0.248</text>
<text x="608.66" y="405.1" font-size="21" fill="#000080" stroke="#000080" stroke-width="0.08" textLength="58.65" lengthAdjust="spacingAndGlyphs" style="">+0.015</text>
<text x="608.63" y="423.9" font-size="21" fill="#000080" stroke="#000080" stroke-width="0.08" textLength="60.24" lengthAdjust="spacingAndGlyphs" style="">−0.019</text>
<text x="445.34" y="451.2" font-size="30.5" fill="#8b0000" stroke="#8b0000" stroke-width="0.08" textLength="33.12" lengthAdjust="spacingAndGlyphs" style="">CI</text>
<text x="478.66" y="454.8" font-size="21" fill="#8b0000" stroke="#8b0000" stroke-width="0.08" textLength="35.7" lengthAdjust="spacingAndGlyphs" style="">68%</text>
<text x="519.57" y="454" font-size="28.7" fill="#8b0000" stroke="#8b0000" stroke-width="0.08" textLength="20.72" lengthAdjust="spacingAndGlyphs" style="">=</text>
<text x="542.92" y="451.2" font-size="28.7" fill="#8b0000" stroke="#8b0000" stroke-width="0.08" textLength="64" lengthAdjust="spacingAndGlyphs" style="">0.247</text>
<text x="608.66" y="440" font-size="21" fill="#8b0000" stroke="#8b0000" stroke-width="0.08" textLength="58.65" lengthAdjust="spacingAndGlyphs" style="">+0.015</text>
<text x="608.63" y="458.8" font-size="21" fill="#8b0000" stroke="#8b0000" stroke-width="0.08" textLength="60.24" lengthAdjust="spacingAndGlyphs" style="">−0.019</text>
<text x="739.94" y="637.8" font-size="30.5" fill="#ff1493" stroke="#ff1493" stroke-width="0.08" textLength="33.12" lengthAdjust="spacingAndGlyphs" style="">CI</text>
<text x="773.26" y="641.4" font-size="21" fill="#ff1493" stroke="#ff1493" stroke-width="0.08" textLength="35.7" lengthAdjust="spacingAndGlyphs" style="">68%</text>
<text x="814.17" y="640.6" font-size="28.7" fill="#ff1493" stroke="#ff1493" stroke-width="0.08" textLength="20.72" lengthAdjust="spacingAndGlyphs" style="">=</text>
<text x="837.01" y="637.8" font-size="28.7" fill="#ff1493" stroke="#ff1493" stroke-width="0.08" textLength="65.93" lengthAdjust="spacingAndGlyphs" style="">2.073</text>
<text x="903.77" y="626.6" font-size="21" fill="#ff1493" stroke="#ff1493" stroke-width="0.08" textLength="58.12" lengthAdjust="spacingAndGlyphs" style="">+0.067</text>
<text x="903.74" y="645.4" font-size="21" fill="#ff1493" stroke="#ff1493" stroke-width="0.08" textLength="59.69" lengthAdjust="spacingAndGlyphs" style="">−0.066</text>
<text x="739.94" y="672.5" font-size="30.5" fill="#ff8c00" stroke="#ff8c00" stroke-width="0.08" textLength="33.12" lengthAdjust="spacingAndGlyphs" style="">CI</text>
<text x="773.26" y="676.1" font-size="21" fill="#ff8c00" stroke="#ff8c00" stroke-width="0.08" textLength="35.7" lengthAdjust="spacingAndGlyphs" style="">68%</text>
<text x="814.17" y="675.3" font-size="28.7" fill="#ff8c00" stroke="#ff8c00" stroke-width="0.08" textLength="20.72" lengthAdjust="spacingAndGlyphs" style="">=</text>
<text x="837" y="672.5" font-size="28.7" fill="#ff8c00" stroke="#ff8c00" stroke-width="0.08" textLength="66.43" lengthAdjust="spacingAndGlyphs" style="">2.072</text>
<text x="903.77" y="661.3" font-size="21" fill="#ff8c00" stroke="#ff8c00" stroke-width="0.08" textLength="58.12" lengthAdjust="spacingAndGlyphs" style="">+0.067</text>
<text x="903.74" y="680.1" font-size="21" fill="#ff8c00" stroke="#ff8c00" stroke-width="0.08" textLength="59.69" lengthAdjust="spacingAndGlyphs" style="">−0.066</text>
<text x="739.94" y="707.2" font-size="30.5" fill="#000080" stroke="#000080" stroke-width="0.08" textLength="33.12" lengthAdjust="spacingAndGlyphs" style="">CI</text>
<text x="773.26" y="710.8" font-size="21" fill="#000080" stroke="#000080" stroke-width="0.08" textLength="35.7" lengthAdjust="spacingAndGlyphs" style="">68%</text>
<text x="814.17" y="710" font-size="28.7" fill="#000080" stroke="#000080" stroke-width="0.08" textLength="20.72" lengthAdjust="spacingAndGlyphs" style="">=</text>
<text x="837.01" y="707.2" font-size="28.7" fill="#000080" stroke="#000080" stroke-width="0.08" textLength="65.93" lengthAdjust="spacingAndGlyphs" style="">2.073</text>
<text x="903.77" y="696" font-size="21" fill="#000080" stroke="#000080" stroke-width="0.08" textLength="58.12" lengthAdjust="spacingAndGlyphs" style="">+0.067</text>
<text x="903.74" y="714.8" font-size="21" fill="#000080" stroke="#000080" stroke-width="0.08" textLength="59.69" lengthAdjust="spacingAndGlyphs" style="">−0.066</text>
<text x="739.94" y="741.9" font-size="30.5" fill="#8b0000" stroke="#8b0000" stroke-width="0.08" textLength="33.12" lengthAdjust="spacingAndGlyphs" style="">CI</text>
<text x="773.26" y="745.5" font-size="21" fill="#8b0000" stroke="#8b0000" stroke-width="0.08" textLength="35.7" lengthAdjust="spacingAndGlyphs" style="">68%</text>
<text x="814.17" y="744.7" font-size="28.7" fill="#8b0000" stroke="#8b0000" stroke-width="0.08" textLength="20.72" lengthAdjust="spacingAndGlyphs" style="">=</text>
<text x="837" y="741.9" font-size="28.7" fill="#8b0000" stroke="#8b0000" stroke-width="0.08" textLength="66.43" lengthAdjust="spacingAndGlyphs" style="">2.072</text>
<text x="903.77" y="730.7" font-size="21" fill="#8b0000" stroke="#8b0000" stroke-width="0.08" textLength="58.12" lengthAdjust="spacingAndGlyphs" style="">+0.067</text>
<text x="903.74" y="749.5" font-size="21" fill="#8b0000" stroke="#8b0000" stroke-width="0.08" textLength="59.69" lengthAdjust="spacingAndGlyphs" style="">−0.066</text>
<line x1="607.4" y1="43.5" x2="661" y2="43.5" stroke="#ff1493" stroke-width="2.9"/>
<text x="680.73" y="52.6" font-size="28.6" fill="#000" stroke="#000" stroke-width="0.12" textLength="298.41" lengthAdjust="spacingAndGlyphs" style="">NICERxXMM C15 new</text>
<line x1="607.4" y1="81.6" x2="661" y2="81.6" stroke="#ff8c00" stroke-width="2.9"/>
<text x="680.73" y="90.7" font-size="28.6" fill="#000" stroke="#000" stroke-width="0.12" textLength="298.41" lengthAdjust="spacingAndGlyphs" style="">NICERxXMM C10 new</text>
<line x1="607.4" y1="119.7" x2="661" y2="119.7" stroke="#000080" stroke-width="2.9"/>
<text x="680.73" y="128.8" font-size="28.6" fill="#000" stroke="#000" stroke-width="0.12" textLength="281.7" lengthAdjust="spacingAndGlyphs" style="">NICERxXMM C6 new</text>
<line x1="607.4" y1="157.8" x2="661" y2="157.8" stroke="#8b0000" stroke-width="2.9"/>
<text x="680.72" y="166.9" font-size="28.6" fill="#000" stroke="#000" stroke-width="0.12" textLength="314.61" lengthAdjust="spacingAndGlyphs" style="">NICERxXMM C10b new</text>
<text x="36.57" y="573.46" font-size="35.5" fill="#000" stroke="#000" stroke-width="0.15" textLength="65.04" lengthAdjust="spacingAndGlyphs" style="">0.28</text>
<text x="35.74" y="648.9" font-size="35.5" fill="#000" stroke="#000" stroke-width="0.15" textLength="65.04" lengthAdjust="spacingAndGlyphs" style="">0.24</text>
<text x="36.57" y="724.34" font-size="35.5" fill="#000" stroke="#000" stroke-width="0.15" textLength="65.04" lengthAdjust="spacingAndGlyphs" style="">0.20</text>
<text x="36.61" y="823.89" font-size="35.5" fill="#000" stroke="#000" stroke-width="0.15" textLength="65.04" lengthAdjust="spacingAndGlyphs" style="">2.25</text>
<text x="36.57" y="904.1" font-size="35.5" fill="#000" stroke="#000" stroke-width="0.15" textLength="65.04" lengthAdjust="spacingAndGlyphs" style="">2.10</text>
<text x="36.61" y="984.3" font-size="35.5" fill="#000" stroke="#000" stroke-width="0.15" textLength="65.04" lengthAdjust="spacingAndGlyphs" style="">1.95</text>
<g transform="translate(162.5 1075.97) rotate(-45)">
<text x="-19.51" y="12" font-size="35.5" stroke="#000" stroke-width="0.15" textLength="37.17" lengthAdjust="spacingAndGlyphs">10</text>
</g>
<g transform="translate(241 1075.75) rotate(-45)">
<text x="-19.19" y="12" font-size="35.5" stroke="#000" stroke-width="0.15" textLength="37.17" lengthAdjust="spacingAndGlyphs">12</text>
</g>
<g transform="translate(319.5 1076.27) rotate(-45)">
<text x="-19.93" y="12" font-size="35.5" stroke="#000" stroke-width="0.15" textLength="37.17" lengthAdjust="spacingAndGlyphs">14</text>
</g>
<g transform="translate(445.8 1086.48) rotate(-45)">
<text x="-32.52" y="12" font-size="35.5" stroke="#000" stroke-width="0.15" textLength="65.04" lengthAdjust="spacingAndGlyphs">0.20</text>
</g>
<g transform="translate(521.9 1086.78) rotate(-45)">
<text x="-32.94" y="12" font-size="35.5" stroke="#000" stroke-width="0.15" textLength="65.04" lengthAdjust="spacingAndGlyphs">0.24</text>
</g>
<g transform="translate(598 1086.48) rotate(-45)">
<text x="-32.52" y="12" font-size="35.5" stroke="#000" stroke-width="0.15" textLength="65.04" lengthAdjust="spacingAndGlyphs">0.28</text>
</g>
<g transform="translate(773.1 1085.81) rotate(-45)">
<text x="-33.43" y="12" font-size="35.5" stroke="#000" stroke-width="0.15" textLength="65.04" lengthAdjust="spacingAndGlyphs">1.95</text>
</g>
<g transform="translate(853.91 1086.4) rotate(-45)">
<text x="-32.63" y="12" font-size="35.5" stroke="#000" stroke-width="0.15" textLength="65.04" lengthAdjust="spacingAndGlyphs">2.10</text>
</g>
<g transform="translate(934.71 1086.39) rotate(-45)">
<text x="-32.61" y="12" font-size="35.5" stroke="#000" stroke-width="0.15" textLength="65.04" lengthAdjust="spacingAndGlyphs">2.25</text>
</g>
</svg>
</body></html>
